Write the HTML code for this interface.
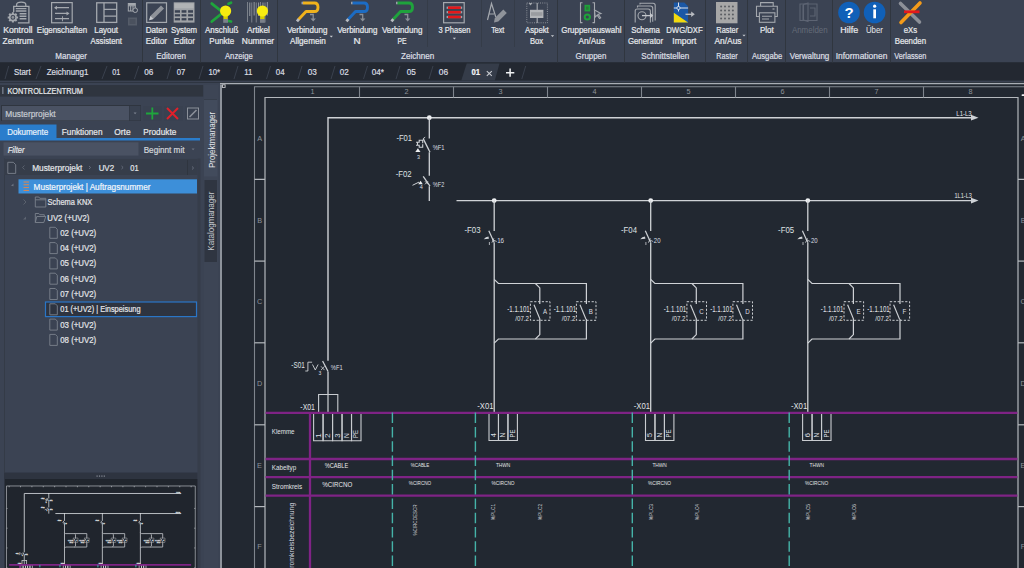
<!DOCTYPE html><html><head><meta charset="utf-8"><style>*{margin:0;padding:0}html,body{width:1024px;height:568px;overflow:hidden;background:#222831}svg{display:block;font-family:"Liberation Sans",sans-serif}</style></head><body><svg width="1024" height="568" viewBox="0 0 1024 568" font-family="Liberation Sans, sans-serif"><rect x="0" y="0" width="1024" height="568" fill="#222831" />
<rect x="0" y="0" width="1024" height="62.5" fill="#3b4353" />
<rect x="0" y="62.5" width="1024" height="18" fill="#232831" />
<rect x="0" y="80.6" width="1024" height="1.4" fill="#3b4252" />
<rect x="0" y="82.5" width="220" height="486" fill="#3b4353" />
<rect x="142" y="0" width="1" height="62.5" fill="#30363f" />
<rect x="200" y="0" width="1" height="62.5" fill="#30363f" />
<rect x="277" y="0" width="1" height="62.5" fill="#30363f" />
<rect x="557" y="0" width="1" height="62.5" fill="#30363f" />
<rect x="624" y="0" width="1" height="62.5" fill="#30363f" />
<rect x="705" y="0" width="1" height="62.5" fill="#30363f" />
<rect x="747" y="0" width="1" height="62.5" fill="#30363f" />
<rect x="785" y="0" width="1" height="62.5" fill="#30363f" />
<rect x="832" y="0" width="1" height="62.5" fill="#30363f" />
<rect x="890" y="0" width="1" height="62.5" fill="#30363f" />
<rect x="427" y="0" width="1" height="47" fill="#353c48" />
<rect x="481" y="0" width="1" height="47" fill="#353c48" />
<rect x="514" y="0" width="1" height="47" fill="#353c48" />
<g fill="none" stroke="#a4a8ae" stroke-width="1.3"><path d="M13.7 12V6.4h15.2v16.5h-11"/><path d="M16.6 6.2v-1.6q0-2.4 4.6-2.4q4.6 0 4.6 2.4v1.6"/></g><path d="M15.8 8.6h10.6M15.8 11h10.6M19.6 13.8h6.8M19.6 16.2h6.8M19.6 18.8h6.8" stroke="#a4a8ae" stroke-width="1.4"/><circle cx="12.9" cy="17.4" r="3.2" fill="#3b4353" stroke="#a4a8ae" stroke-width="1.6"/><circle cx="12.9" cy="17.4" r="1.4" fill="#8d9198"/><path d="M16.20 17.40L18.10 17.40M15.23 19.73L16.58 21.08M12.90 20.70L12.90 22.60M10.57 19.73L9.22 21.08M9.60 17.40L7.70 17.40M10.57 15.07L9.22 13.72M12.90 14.10L12.90 12.20M15.23 15.07L16.58 13.72" stroke="#a4a8ae" stroke-width="2"/>
<text x="3.21" y="33.45" font-size="8.4" fill="#e6e8eb" textLength="29.31" lengthAdjust="spacingAndGlyphs" stroke="#e6e8eb" stroke-width="0.22" >Kontroll</text>
<text x="2.55" y="43.65" font-size="8.4" fill="#e6e8eb" textLength="31.07" lengthAdjust="spacingAndGlyphs" stroke="#e6e8eb" stroke-width="0.22" >Zentrum</text>
<g fill="none" stroke="#a4a8ae" stroke-width="1.2"><rect x="51.6" y="2.6" width="20.6" height="20.2"/><path d="M55 7.7h14M55 13.4h13.5M55 18.7h14"/></g><g fill="#a4a8ae"><path d="M54 7.7l3-2v4z"/><path d="M69.5 13.4l-3-2v4z"/><path d="M62 16.3v5h0.9v-5z"/></g>
<text x="36.87" y="33.45" font-size="8.4" fill="#e6e8eb" textLength="50.19" lengthAdjust="spacingAndGlyphs" stroke="#e6e8eb" stroke-width="0.22" >Eigenschaften</text>
<g fill="none" stroke="#a4a8ae" stroke-width="1.3"><rect x="96.7" y="2.8" width="20" height="19.6"/><path d="M104 2.8v19.6M104 9.4h12.7M104 16.2h12.7"/></g>
<text x="94.37" y="33.45" font-size="8.4" fill="#e6e8eb" textLength="23.65" lengthAdjust="spacingAndGlyphs" stroke="#e6e8eb" stroke-width="0.22" >Layout</text>
<text x="90.60" y="43.65" font-size="8.4" fill="#e6e8eb" textLength="31.38" lengthAdjust="spacingAndGlyphs" stroke="#e6e8eb" stroke-width="0.22" >Assistent</text>
<g fill="none" stroke="#a4a8ae" stroke-width="1"><rect x="128.3" y="3.5" width="7" height="7.5"/><path d="M128.3 5.8h7M130.7 5.8v5.2M133 5.8v5.2"/></g><rect x="128.3" y="3.5" width="7" height="2" fill="#a4a8ae"/><circle cx="135.2" cy="10.2" r="2.3" fill="#3b4353" stroke="#a4a8ae" stroke-width="1"/><rect x="128" y="17.5" width="9" height="8" fill="#555c69"/><rect x="129.5" y="19" width="6" height="5" fill="#4a515e"/>
<text x="55.26" y="58.70" font-size="8.4" fill="#dcdfe3" textLength="31.78" lengthAdjust="spacingAndGlyphs" stroke="#dcdfe3" stroke-width="0.22" >Manager</text>
<rect x="146.7" y="2.8" width="19.8" height="19.6" fill="none" stroke="#a4a8ae" stroke-width="1.2"/><path d="M149.2 20.2l1.2-4.2l10.6-10.6l3 3l-10.6 10.6z" fill="#8f939a"/><path d="M149.2 20.2l1.2-4.2l3 3z" fill="#c8cbd0"/>
<text x="145.65" y="33.45" font-size="8.4" fill="#e6e8eb" textLength="21.73" lengthAdjust="spacingAndGlyphs" stroke="#e6e8eb" stroke-width="0.22" >Daten</text>
<text x="145.65" y="43.65" font-size="8.4" fill="#e6e8eb" textLength="21.35" lengthAdjust="spacingAndGlyphs" stroke="#e6e8eb" stroke-width="0.22" >Editor</text>
<rect x="173.7" y="2.3" width="20.8" height="20.3" fill="#9fa2a6"/><rect x="174.5" y="3.3" width="19.2" height="5" fill="#b1b3b5"/><rect x="174.8" y="10.2" width="5.2" height="2.5" fill="#3b4353"/><rect x="174.8" y="14.2" width="5.2" height="2.2" fill="#3b4353"/><rect x="174.8" y="18.1" width="5.2" height="2.3" fill="#3b4353"/><rect x="181.6" y="10.2" width="4.8" height="2.5" fill="#3b4353"/><rect x="181.6" y="14.2" width="4.8" height="2.2" fill="#3b4353"/><rect x="181.6" y="18.1" width="4.8" height="2.3" fill="#3b4353"/><rect x="188.1" y="10.2" width="4.9" height="2.5" fill="#3b4353"/><rect x="188.1" y="14.2" width="4.9" height="2.2" fill="#3b4353"/><rect x="188.1" y="18.1" width="4.9" height="2.3" fill="#3b4353"/>
<text x="170.99" y="33.45" font-size="8.4" fill="#e6e8eb" textLength="26.01" lengthAdjust="spacingAndGlyphs" stroke="#e6e8eb" stroke-width="0.22" >System</text>
<text x="173.75" y="43.65" font-size="8.4" fill="#e6e8eb" textLength="21.35" lengthAdjust="spacingAndGlyphs" stroke="#e6e8eb" stroke-width="0.22" >Editor</text>
<text x="156.26" y="58.70" font-size="8.4" fill="#dcdfe3" textLength="29.77" lengthAdjust="spacingAndGlyphs" stroke="#dcdfe3" stroke-width="0.22" >Editoren</text>
<g stroke="#1fa53c" stroke-width="2.8" stroke-linecap="round"><path d="M211.8 3.6L223 12.5M211.8 21.5L223 12.5"/><path d="M228.5 3.8l2.5-1M228.5 21l2.5 0.5"/></g><rect x="223.4" y="16" width="4.4" height="3" fill="#d8d000"/><rect x="223.2" y="19" width="4.8" height="3.8" fill="#7b808a"/><circle cx="225.6" cy="11" r="5.6" fill="#f8ec10"/>
<text x="205.00" y="33.45" font-size="8.4" fill="#e6e8eb" textLength="33.41" lengthAdjust="spacingAndGlyphs" stroke="#e6e8eb" stroke-width="0.22" >Anschluß</text>
<text x="209.36" y="43.65" font-size="8.4" fill="#e6e8eb" textLength="24.91" lengthAdjust="spacingAndGlyphs" stroke="#e6e8eb" stroke-width="0.22" >Punkte</text>
<rect x="247.0" y="2" width="0.8" height="20" fill="#8c9199"/><rect x="249.2" y="2.5" width="1.1" height="13.5" fill="#8c9199"/><rect x="251.4" y="2.5" width="0.8" height="20" fill="#8c9199"/><rect x="253.6" y="2" width="1.1" height="13.5" fill="#8c9199"/><rect x="255.8" y="2.5" width="0.8" height="20" fill="#8c9199"/><rect x="258.0" y="2.5" width="1.1" height="13.5" fill="#8c9199"/><rect x="260.2" y="2" width="0.8" height="20" fill="#8c9199"/><rect x="262.4" y="2.5" width="1.1" height="13.5" fill="#8c9199"/><rect x="264.6" y="2.5" width="0.8" height="20" fill="#8c9199"/><rect x="266.8" y="2" width="1.1" height="13.5" fill="#8c9199"/><rect x="260.2" y="16" width="4.4" height="3" fill="#d8d000"/><rect x="260.0" y="19" width="4.8" height="3.8" fill="#7b808a"/><circle cx="262.4" cy="11" r="5.6" fill="#f8ec10"/>
<text x="246.90" y="33.45" font-size="8.4" fill="#e6e8eb" textLength="22.98" lengthAdjust="spacingAndGlyphs" stroke="#e6e8eb" stroke-width="0.22" >Artikel</text>
<text x="241.83" y="43.65" font-size="8.4" fill="#e6e8eb" textLength="32.29" lengthAdjust="spacingAndGlyphs" stroke="#e6e8eb" stroke-width="0.22" >Nummer</text>
<text x="225.00" y="58.70" font-size="8.4" fill="#dcdfe3" textLength="27.76" lengthAdjust="spacingAndGlyphs" stroke="#dcdfe3" stroke-width="0.22" >Anzeige</text>
<path d="M302.8 3H314.5Q318 3 318 7.2Q318 11.5 314.5 11.5H306L298.5 19.5" fill="none" stroke="#f0b21c" stroke-width="2.9" stroke-linejoin="round"/><path d="M298.8 19.2l-1.8 2.2" stroke="#b9bcc1" stroke-width="2.8"/><path d="M301.5 3H303" stroke="#9aa0a8" stroke-width="2.6"/><g fill="none" stroke="#8a8f97" stroke-width="1.3"><path d="M310 14.5h3.2v5"/></g><path d="M310.5 18.6h5.4l-2.7 3z" fill="#8a8f97"/>
<text x="286.90" y="33.45" font-size="8.4" fill="#e6e8eb" textLength="40.48" lengthAdjust="spacingAndGlyphs" stroke="#e6e8eb" stroke-width="0.22" >Verbindung</text>
<text x="290.00" y="43.65" font-size="8.4" fill="#e6e8eb" textLength="35.80" lengthAdjust="spacingAndGlyphs" stroke="#e6e8eb" stroke-width="0.22" >Allgemein</text>
<path d="M329.7 35.7h3.2l-1.6 1.8z" fill="#c8cbd0"/>
<path d="M352.3 3H364.0Q367.5 3 367.5 7.2Q367.5 11.5 364.0 11.5H355.5L348.0 19.5" fill="none" stroke="#1c6cc4" stroke-width="2.9" stroke-linejoin="round"/><path d="M348.3 19.2l-1.8 2.2" stroke="#b9bcc1" stroke-width="2.8"/><path d="M351.0 3H352.5" stroke="#9aa0a8" stroke-width="2.6"/><g fill="none" stroke="#8a8f97" stroke-width="1.3"><path d="M359.5 14.5h3.2v5"/></g><path d="M360.0 18.6h5.4l-2.7 3z" fill="#8a8f97"/>
<text x="337.20" y="33.45" font-size="8.4" fill="#e6e8eb" textLength="40.28" lengthAdjust="spacingAndGlyphs" stroke="#e6e8eb" stroke-width="0.22" >Verbindung</text>
<text x="353.61" y="43.65" font-size="8.4" fill="#e6e8eb" textLength="7.10" lengthAdjust="spacingAndGlyphs" stroke="#e6e8eb" stroke-width="0.22" >N</text>
<path d="M397.3 3H409.0Q412.5 3 412.5 7.2Q412.5 11.5 409.0 11.5H400.5L393.0 19.5" fill="none" stroke="#1fa33c" stroke-width="2.9" stroke-linejoin="round"/><path d="M393.3 19.2l-1.8 2.2" stroke="#b9bcc1" stroke-width="2.8"/><path d="M396.0 3H397.5" stroke="#9aa0a8" stroke-width="2.6"/><g fill="none" stroke="#8a8f97" stroke-width="1.3"><path d="M404.5 14.5h3.2v5"/></g><path d="M405.0 18.6h5.4l-2.7 3z" fill="#8a8f97"/>
<text x="381.90" y="33.45" font-size="8.4" fill="#e6e8eb" textLength="40.48" lengthAdjust="spacingAndGlyphs" stroke="#e6e8eb" stroke-width="0.22" >Verbindung</text>
<text x="397.46" y="43.65" font-size="8.4" fill="#e6e8eb" textLength="9.08" lengthAdjust="spacingAndGlyphs" stroke="#e6e8eb" stroke-width="0.22" >PE</text>
<text x="401.06" y="58.70" font-size="8.4" fill="#dcdfe3" textLength="33.17" lengthAdjust="spacingAndGlyphs" stroke="#dcdfe3" stroke-width="0.22" >Zeichnen</text>
<rect x="443.6" y="2.6" width="20.6" height="20.2" fill="none" stroke="#a4a8ae" stroke-width="1.2"/><path d="M446.6 7.7h15.6" stroke="#9fa3a9" stroke-width="2.2"/><path d="M448 7.7h12.8" stroke="#e3181b" stroke-width="2.6"/><path d="M446.6 12.2h15.6" stroke="#9fa3a9" stroke-width="2.2"/><path d="M448 12.2h12.8" stroke="#e3181b" stroke-width="2.6"/><path d="M446.6 17h15.6" stroke="#9fa3a9" stroke-width="2.2"/><path d="M448 17h12.8" stroke="#e3181b" stroke-width="2.6"/>
<text x="438.57" y="33.45" font-size="8.4" fill="#e6e8eb" textLength="31.84" lengthAdjust="spacingAndGlyphs" stroke="#e6e8eb" stroke-width="0.22" >3 Phasen</text>
<path d="M452.79999999999995 37.7h3.2l-1.6 1.8z" fill="#c8cbd0"/>
<path d="M487.5 20L491.5 3.5L495.8 17M489 14h5" fill="none" stroke="#a4a8ae" stroke-width="1.2"/><path d="M494 22.5l0.8-4.5l8.5-8.5l3.5 3.5l-8.5 8.5z" fill="#8f939a"/>
<text x="491.16" y="33.45" font-size="8.4" fill="#e6e8eb" textLength="13.20" lengthAdjust="spacingAndGlyphs" stroke="#e6e8eb" stroke-width="0.22" >Text</text>
<rect x="526.8" y="3" width="20.6" height="19.8" fill="none" stroke="#8a8f97" stroke-width="1" stroke-dasharray="1 1.2"/><path d="M537.2 3v20" stroke="#a4a8ae" stroke-width="1.2"/><rect x="530" y="9.8" width="13.4" height="8.2" fill="#b4b6b9"/><rect x="531" y="12.2" width="11.4" height="3.6" fill="#9a9ca0"/><path d="M528.5 3h4l-2 2.5z" fill="#a4a8ae"/>
<text x="525.00" y="33.45" font-size="8.4" fill="#e6e8eb" textLength="23.78" lengthAdjust="spacingAndGlyphs" stroke="#e6e8eb" stroke-width="0.22" >Aspekt</text>
<text x="529.99" y="43.65" font-size="8.4" fill="#e6e8eb" textLength="13.21" lengthAdjust="spacingAndGlyphs" stroke="#e6e8eb" stroke-width="0.22" >Box</text>
<path d="M550.9 35.2h3.2l-1.6 1.8z" fill="#c8cbd0"/>
<g fill="none" stroke="#a4a8ae" stroke-width="1.1"><path d="M582.5 2.8h-2v19.8h2M592.5 2.8h2v19.8h-2"/><path d="M594.5 10l6.5 3.5l-2.8 0.8l2.5 3.5l-1.2 0.8l-2.3-3.5l-2 2z"/></g><rect x="584.5" y="4.8" width="5.6" height="6.6" fill="#1ea23a"/><rect x="586" y="6.5" width="2.6" height="3.2" fill="#2c7a3a"/><circle cx="587.3" cy="17" r="2.6" fill="none" stroke="#1ea23a" stroke-width="2"/>
<text x="561.20" y="33.45" font-size="8.4" fill="#e6e8eb" textLength="60.28" lengthAdjust="spacingAndGlyphs" stroke="#e6e8eb" stroke-width="0.22" >Gruppenauswahl</text>
<text x="578.50" y="43.65" font-size="8.4" fill="#e6e8eb" textLength="26.58" lengthAdjust="spacingAndGlyphs" stroke="#e6e8eb" stroke-width="0.22" >An/Aus</text>
<text x="575.60" y="58.70" font-size="8.4" fill="#dcdfe3" textLength="30.80" lengthAdjust="spacingAndGlyphs" stroke="#dcdfe3" stroke-width="0.22" >Gruppen</text>
<g fill="none" stroke="#a4a8ae" stroke-width="1.1"><path d="M640 4.5V3.2h13q2.2 0 2.2 2.2v15"/><path d="M637.5 7.5V6h13q2.2 0 2.2 2.2v13.6"/><path d="M635.2 22.5V11q0-2 2-2h11q2.2 0 2.2 2.2v11.3"/><circle cx="642" cy="15.7" r="4"/></g><path d="M642 15.6h9" stroke="#c4c7cc" stroke-width="1.3"/><path d="M650 12.8l3.2 2.8l-3.2 2.8z" fill="#c4c7cc"/>
<text x="631.29" y="33.45" font-size="8.4" fill="#e6e8eb" textLength="28.50" lengthAdjust="spacingAndGlyphs" stroke="#e6e8eb" stroke-width="0.22" >Schema</text>
<text x="627.91" y="43.65" font-size="8.4" fill="#e6e8eb" textLength="35.08" lengthAdjust="spacingAndGlyphs" stroke="#e6e8eb" stroke-width="0.22" >Generator</text>
<path d="M673.8 2.5h10.5l3.8 3.8v16.3h-14.3z" fill="#1b58a6"/><path d="M673.8 12.8l14.3 9.8h-14.3z" fill="#f2d90e"/><g stroke="#dfe3ea" stroke-width="1"><path d="M678.5 2.5v9M673.8 8h14.3"/></g><circle cx="678.5" cy="8" r="1.6" fill="#1b58a6" stroke="#dfe3ea" stroke-width="0.9"/><path d="M685.5 14.3h6.5" stroke="#b9bcc1" stroke-width="1.4"/><path d="M691.2 11.5l3.6 2.8l-3.6 2.8z" fill="#b9bcc1"/>
<text x="666.28" y="33.45" font-size="8.4" fill="#e6e8eb" textLength="36.46" lengthAdjust="spacingAndGlyphs" stroke="#e6e8eb" stroke-width="0.22" >DWG/DXF</text>
<text x="672.33" y="43.65" font-size="8.4" fill="#e6e8eb" textLength="24.11" lengthAdjust="spacingAndGlyphs" stroke="#e6e8eb" stroke-width="0.22" >Import</text>
<text x="641.28" y="58.70" font-size="8.4" fill="#dcdfe3" textLength="47.99" lengthAdjust="spacingAndGlyphs" stroke="#dcdfe3" stroke-width="0.22" >Schnittstellen</text>
<rect x="716" y="2" width="21.5" height="21.3" fill="#a7a7a7"/><circle cx="721.1" cy="6.5" r="1" fill="#5a5d62"/><circle cx="721.1" cy="10.5" r="1" fill="#5a5d62"/><circle cx="721.1" cy="14.6" r="1" fill="#5a5d62"/><circle cx="721.1" cy="18.5" r="1" fill="#5a5d62"/><circle cx="725" cy="6.5" r="1" fill="#5a5d62"/><circle cx="725" cy="10.5" r="1" fill="#5a5d62"/><circle cx="725" cy="14.6" r="1" fill="#5a5d62"/><circle cx="725" cy="18.5" r="1" fill="#5a5d62"/><circle cx="729" cy="6.5" r="1" fill="#5a5d62"/><circle cx="729" cy="10.5" r="1" fill="#5a5d62"/><circle cx="729" cy="14.6" r="1" fill="#5a5d62"/><circle cx="729" cy="18.5" r="1" fill="#5a5d62"/><circle cx="732.9" cy="6.5" r="1" fill="#5a5d62"/><circle cx="732.9" cy="10.5" r="1" fill="#5a5d62"/><circle cx="732.9" cy="14.6" r="1" fill="#5a5d62"/><circle cx="732.9" cy="18.5" r="1" fill="#5a5d62"/>
<text x="716.30" y="33.45" font-size="8.4" fill="#e6e8eb" textLength="21.91" lengthAdjust="spacingAndGlyphs" stroke="#e6e8eb" stroke-width="0.22" >Raster</text>
<text x="714.40" y="43.65" font-size="8.4" fill="#e6e8eb" textLength="27.19" lengthAdjust="spacingAndGlyphs" stroke="#e6e8eb" stroke-width="0.22" >An/Aus</text>
<path d="M742.4 34.7h3.2l-1.6 1.8z" fill="#c8cbd0"/>
<text x="716.32" y="58.70" font-size="8.4" fill="#dcdfe3" textLength="21.29" lengthAdjust="spacingAndGlyphs" stroke="#dcdfe3" stroke-width="0.22" >Raster</text>
<g fill="none" stroke="#a4a8ae" stroke-width="1.1"><path d="M760.6 6V2.6h12.6V6"/><path d="M759.3 16.5h-2.8V6.2h20.8v10.3h-2.5"/><rect x="759.4" y="12.8" width="15.5" height="9.5"/><path d="M762 16.3h10M762 19h7"/></g><path d="M772.5 9h2" stroke="#a4a8ae" stroke-width="1.2"/>
<text x="759.96" y="33.45" font-size="8.4" fill="#e6e8eb" textLength="13.78" lengthAdjust="spacingAndGlyphs" stroke="#e6e8eb" stroke-width="0.22" >Plot</text>
<text x="751.90" y="58.70" font-size="8.4" fill="#dcdfe3" textLength="30.29" lengthAdjust="spacingAndGlyphs" stroke="#dcdfe3" stroke-width="0.22" >Ausgabe</text>
<g fill="none" stroke="#5d6473" stroke-width="1.1"><path d="M800 4h17v16.5h-17z"/><path d="M803 4.5v15.5M808 3l-4.5 1.5v15.5l4.5 1.5z"/><path d="M810 8h5v8h-5"/></g>
<text x="791.90" y="33.20" font-size="8.4" fill="#646b78" textLength="35.82" lengthAdjust="spacingAndGlyphs" >Anmelden</text>
<text x="789.80" y="58.70" font-size="8.4" fill="#dcdfe3" textLength="39.46" lengthAdjust="spacingAndGlyphs" stroke="#dcdfe3" stroke-width="0.22" >Verwaltung</text>
<circle cx="849" cy="12.5" r="10.8" fill="#1060b8"/><circle cx="874.6" cy="12.5" r="10.8" fill="#1060b8"/><text x="849" y="17.6" font-weight="bold" font-size="15" fill="#fff" text-anchor="middle">?</text><rect x="873.3" y="9.3" width="2.7" height="9" fill="#fff"/><circle cx="874.65" cy="6.2" r="1.6" fill="#fff"/>
<text x="840.29" y="33.45" font-size="8.4" fill="#e6e8eb" textLength="17.88" lengthAdjust="spacingAndGlyphs" stroke="#e6e8eb" stroke-width="0.22" >Hilfe</text>
<text x="865.95" y="33.20" font-size="8.4" fill="#e6e8eb" textLength="16.98" lengthAdjust="spacingAndGlyphs" >Über</text>
<text x="835.74" y="58.70" font-size="8.4" fill="#dcdfe3" textLength="51.62" lengthAdjust="spacingAndGlyphs" stroke="#dcdfe3" stroke-width="0.22" >Informationen</text>
<path d="M900.5 3.5L919.5 22" stroke="#8c9098" stroke-width="3.6" stroke-linecap="round"/><path d="M920 3L901 22.5" stroke="#f39b1a" stroke-width="3.6" stroke-linecap="round"/><path d="M904 11.8h15.5" stroke="#e3191b" stroke-width="2.8"/>
<text x="903.69" y="33.45" font-size="8.4" fill="#e6e8eb" textLength="13.37" lengthAdjust="spacingAndGlyphs" stroke="#e6e8eb" stroke-width="0.22" >eXs</text>
<text x="894.67" y="43.65" font-size="8.4" fill="#e6e8eb" textLength="31.35" lengthAdjust="spacingAndGlyphs" stroke="#e6e8eb" stroke-width="0.22" >Beenden</text>
<text x="894.30" y="58.70" font-size="8.4" fill="#dcdfe3" textLength="32.08" lengthAdjust="spacingAndGlyphs" stroke="#dcdfe3" stroke-width="0.22" >Verlassen</text>
<path d="M466.7 63.5H499.5L494.8 80.5H461.3z" fill="#353c49"/>
<path d="M8.7 66L5 79" stroke="#3a414e" stroke-width="1"/>
<path d="M41 66L36 79" stroke="#3a414e" stroke-width="1"/>
<path d="M107 66L102 79" stroke="#3a414e" stroke-width="1"/>
<path d="M138.8 66L134.4 79" stroke="#3a414e" stroke-width="1"/>
<path d="M171 66L167 79" stroke="#3a414e" stroke-width="1"/>
<path d="M203 66L199 79" stroke="#3a414e" stroke-width="1"/>
<path d="M238 66L234 79" stroke="#3a414e" stroke-width="1"/>
<path d="M270.5 66L266.5 79" stroke="#3a414e" stroke-width="1"/>
<path d="M302 66L298 79" stroke="#3a414e" stroke-width="1"/>
<path d="M335 66L331 79" stroke="#3a414e" stroke-width="1"/>
<path d="M367.5 66L363.5 79" stroke="#3a414e" stroke-width="1"/>
<path d="M400 66L396 79" stroke="#3a414e" stroke-width="1"/>
<path d="M433 66L429 79" stroke="#3a414e" stroke-width="1"/>
<path d="M525.7 66L521.8 79" stroke="#3a414e" stroke-width="1"/>
<text x="14.09" y="75.20" font-size="8.4" fill="#dadde1" textLength="16.53" lengthAdjust="spacingAndGlyphs" stroke="#dadde1" stroke-width="0.2" >Start</text>
<text x="46.76" y="75.20" font-size="8.4" fill="#dadde1" textLength="41.60" lengthAdjust="spacingAndGlyphs" stroke="#dadde1" stroke-width="0.2" >Zeichnung1</text>
<text x="112.28" y="75.20" font-size="8.4" fill="#dadde1" textLength="8.02" lengthAdjust="spacingAndGlyphs" stroke="#dadde1" stroke-width="0.2" >01</text>
<text x="144.15" y="75.20" font-size="8.4" fill="#dadde1" textLength="9.11" lengthAdjust="spacingAndGlyphs" stroke="#dadde1" stroke-width="0.2" >06</text>
<text x="176.77" y="75.20" font-size="8.4" fill="#dadde1" textLength="8.56" lengthAdjust="spacingAndGlyphs" stroke="#dadde1" stroke-width="0.2" >07</text>
<text x="208.46" y="75.20" font-size="8.4" fill="#dadde1" textLength="11.63" lengthAdjust="spacingAndGlyphs" stroke="#dadde1" stroke-width="0.2" >10*</text>
<text x="244.15" y="75.20" font-size="8.4" fill="#dadde1" textLength="8.12" lengthAdjust="spacingAndGlyphs" stroke="#dadde1" stroke-width="0.2" >11</text>
<text x="275.76" y="75.20" font-size="8.4" fill="#dadde1" textLength="8.81" lengthAdjust="spacingAndGlyphs" stroke="#dadde1" stroke-width="0.2" >04</text>
<text x="307.75" y="75.20" font-size="8.4" fill="#dadde1" textLength="9.11" lengthAdjust="spacingAndGlyphs" stroke="#dadde1" stroke-width="0.2" >03</text>
<text x="339.76" y="75.20" font-size="8.4" fill="#dadde1" textLength="8.98" lengthAdjust="spacingAndGlyphs" stroke="#dadde1" stroke-width="0.2" >02</text>
<text x="371.66" y="75.20" font-size="8.4" fill="#dadde1" textLength="12.24" lengthAdjust="spacingAndGlyphs" stroke="#dadde1" stroke-width="0.2" >04*</text>
<text x="406.75" y="75.20" font-size="8.4" fill="#dadde1" textLength="9.11" lengthAdjust="spacingAndGlyphs" stroke="#dadde1" stroke-width="0.2" >05</text>
<text x="438.75" y="75.20" font-size="8.4" fill="#dadde1" textLength="9.32" lengthAdjust="spacingAndGlyphs" stroke="#dadde1" stroke-width="0.2" >06</text>
<text x="471.57" y="74.90" font-size="8.4" fill="#f4f5f7" textLength="8.60" lengthAdjust="spacingAndGlyphs" font-weight="bold" stroke="#f4f5f7" stroke-width="0.2" >01</text>
<path d="M486.8 71.2l5 4.6M491.8 71.2l-5 4.6" stroke="#c9ccd1" stroke-width="1.1"/><path d="M510.1 68.6v8.2M506 72.7h8.3" stroke="#f0f1f3" stroke-width="1.5"/>
<rect x="0" y="85.1" width="203.4" height="11.5" fill="#2f353f" />
<rect x="2" y="87" width="1.6" height="7" fill="#6b7280" />
<text x="7.41" y="93.70" font-size="8.2" fill="#e6e8eb" textLength="75.59" lengthAdjust="spacingAndGlyphs" stroke="#e6e8eb" stroke-width="0.2" >KONTROLLZENTRUM</text>
<rect x="1" y="105" width="140" height="16" fill="#2f353f" />
<rect x="2" y="106" width="127" height="14.5" fill="#4a5263" />
<text x="5.23" y="116.80" font-size="8.4" fill="#c6cad1" textLength="50.44" lengthAdjust="spacingAndGlyphs" stroke="#c6cad1" stroke-width="0.2" >Musterprojekt</text>
<rect x="129.5" y="106" width="11" height="14.5" fill="#394150" />
<path d="M133.6 112.6h3l-1.5 1.6z" fill="#7d8390"/>
<rect x="143.5" y="106" width="18" height="14.5" fill="#394150" />
<rect x="164" y="106" width="19" height="14.5" fill="#394150" />
<rect x="185" y="106" width="15" height="14.5" fill="#394150" />
<path d="M152.3 107.5v12M146 113.5h12.5" stroke="#1fa53c" stroke-width="1.8"/><path d="M167 108l11 11M178 108l-11 11" stroke="#e0202a" stroke-width="2"/><rect x="187.5" y="108" width="11" height="11" fill="none" stroke="#8c919a" stroke-width="1"/><path d="M189.5 117l7-7" stroke="#8c919a" stroke-width="1.6"/>
<rect x="0" y="124.5" width="56.5" height="14" fill="#2a7dcc" />
<rect x="0" y="138" width="200" height="2.5" fill="#2a7dcc" />
<text x="7.16" y="135.00" font-size="8.4" fill="#e8f1fb" textLength="41.01" lengthAdjust="spacingAndGlyphs" stroke="#e8f1fb" stroke-width="0.2" >Dokumente</text>
<text x="61.84" y="135.00" font-size="8.4" fill="#e4e6e9" textLength="40.63" lengthAdjust="spacingAndGlyphs" stroke="#e4e6e9" stroke-width="0.2" >Funktionen</text>
<text x="114.26" y="135.00" font-size="8.4" fill="#e4e6e9" textLength="16.33" lengthAdjust="spacingAndGlyphs" stroke="#e4e6e9" stroke-width="0.2" >Orte</text>
<text x="143.34" y="135.00" font-size="8.4" fill="#e4e6e9" textLength="32.92" lengthAdjust="spacingAndGlyphs" stroke="#e4e6e9" stroke-width="0.2" >Produkte</text>
<rect x="3.5" y="142.3" width="135" height="13.3" fill="#4a5263" />
<text x="7.67" y="152.90" font-size="8.4" fill="#e6e8eb" textLength="16.84" lengthAdjust="spacingAndGlyphs" font-style="italic" stroke="#e6e8eb" stroke-width="0.2" >Filter</text>
<text x="143.65" y="152.90" font-size="8.4" fill="#d4d7dc" textLength="40.87" lengthAdjust="spacingAndGlyphs" stroke="#d4d7dc" stroke-width="0.2" >Beginnt mit</text>
<path d="M191.6 148.6h3l-1.5 1.6z" fill="#6b7280"/>
<rect x="4" y="158.5" width="193.5" height="314" fill="#3b4353" />
<path d="M4.5 158.5V472.5" stroke="#343b47" stroke-width="1"/>
<rect x="197.5" y="158.5" width="3" height="414" fill="#363d4a" />
<rect x="4" y="159" width="193.5" height="16" fill="#363d4a" />
<path d="M7.8 162.3h5.5l2.4 2.4v8.7h-7.9z" fill="none" stroke="#7c828d" stroke-width="0.9"/><path d="M24.5 165.5l-2 2l2 2" fill="none" stroke="#5d6471" stroke-width="0.9"/><path d="M89 166l1.6 1.5l-1.6 1.5M121.5 166l1.6 1.5l-1.6 1.5" fill="none" stroke="#6b7280" stroke-width="0.9"/><path d="M187.5 160v15" stroke="#2f353f" stroke-width="1"/><path d="M192 166.5l1.6 1.5l-1.6 1.5" fill="none" stroke="#6b7280" stroke-width="0.9"/>
<text x="32.14" y="170.70" font-size="8.4" fill="#e4e6e9" textLength="50.24" lengthAdjust="spacingAndGlyphs" stroke="#e4e6e9" stroke-width="0.2" >Musterprojekt</text>
<text x="98.65" y="170.70" font-size="8.4" fill="#e4e6e9" textLength="15.41" lengthAdjust="spacingAndGlyphs" stroke="#e4e6e9" stroke-width="0.2" >UV2</text>
<text x="130.28" y="170.70" font-size="8.4" fill="#e4e6e9" textLength="8.34" lengthAdjust="spacingAndGlyphs" stroke="#e4e6e9" stroke-width="0.2" >01</text>
<rect x="18.5" y="179.3" width="178.5" height="14.2" fill="#3d8fd9" />
<path d="M11 185.8l2.5-2.2v2.6z" fill="#6b7280"/><path d="M23.5 182h5.5M23.5 184.8h5.5M23.5 187.6h5.5M23.5 190.4h5.5" stroke="#e3874a" stroke-width="1"/>
<text x="33.54" y="189.50" font-size="8.4" fill="#f2f6fb" textLength="116.93" lengthAdjust="spacingAndGlyphs" stroke="#f2f6fb" stroke-width="0.2" >Musterprojekt | Auftragsnummer</text>
<path d="M23.5 199.5l2.5 2.5l-2.5 2.5" fill="none" stroke="#5d6471" stroke-width="0.9"/>
<path d="M23 219.5l3-3v3z" fill="#5d6471"/>
<path d="M35.3 197h3.5l1 1.3h6v8.7h-10.5z M35.3 199.8h10.5" fill="none" stroke="#7c828d" stroke-width="0.9"/>
<path d="M35.3 213.5h3.5l1 1.2h4.5v1.5M35.3 213.5v9h8.5l2-6h-9l-1.5 6" fill="none" stroke="#7c828d" stroke-width="0.9"/>
<text x="47.60" y="205.20" font-size="8.4" fill="#e4e6e9" textLength="44.69" lengthAdjust="spacingAndGlyphs" stroke="#e4e6e9" stroke-width="0.2" >Schema KNX</text>
<text x="47.36" y="220.60" font-size="8.4" fill="#e4e6e9" textLength="41.92" lengthAdjust="spacingAndGlyphs" stroke="#e4e6e9" stroke-width="0.2" >UV2 (+UV2)</text>
<rect x="45.5" y="302.0" width="151" height="14.6" fill="#2e3440" stroke="#2a76c6" stroke-width="1.2"/>
<path d="M49.8 227.3h5.5l2 2v9h-7.5z" fill="none" stroke="#7c828d" stroke-width="0.9"/>
<text x="60.26" y="235.80" font-size="8.4" fill="#e4e6e9" textLength="35.97" lengthAdjust="spacingAndGlyphs" stroke="#e4e6e9" stroke-width="0.2" >02 (+UV2)</text>
<path d="M49.8 242.60000000000002h5.5l2 2v9h-7.5z" fill="none" stroke="#7c828d" stroke-width="0.9"/>
<text x="60.26" y="251.10" font-size="8.4" fill="#e4e6e9" textLength="35.97" lengthAdjust="spacingAndGlyphs" stroke="#e4e6e9" stroke-width="0.2" >04 (+UV2)</text>
<path d="M49.8 257.90000000000003h5.5l2 2v9h-7.5z" fill="none" stroke="#7c828d" stroke-width="0.9"/>
<text x="60.26" y="266.40" font-size="8.4" fill="#e4e6e9" textLength="35.97" lengthAdjust="spacingAndGlyphs" stroke="#e4e6e9" stroke-width="0.2" >05 (+UV2)</text>
<path d="M49.8 273.20000000000005h5.5l2 2v9h-7.5z" fill="none" stroke="#7c828d" stroke-width="0.9"/>
<text x="60.26" y="281.70" font-size="8.4" fill="#e4e6e9" textLength="35.97" lengthAdjust="spacingAndGlyphs" stroke="#e4e6e9" stroke-width="0.2" >06 (+UV2)</text>
<path d="M49.8 288.5h5.5l2 2v9h-7.5z" fill="none" stroke="#7c828d" stroke-width="0.9"/>
<text x="60.26" y="297.00" font-size="8.4" fill="#e4e6e9" textLength="35.97" lengthAdjust="spacingAndGlyphs" stroke="#e4e6e9" stroke-width="0.2" >07 (+UV2)</text>
<path d="M49.8 303.8h5.5l2 2v9h-7.5z" fill="none" stroke="#7c828d" stroke-width="0.9"/>
<text x="60.28" y="312.30" font-size="8.4" fill="#e4e6e9" textLength="80.26" lengthAdjust="spacingAndGlyphs" stroke="#e4e6e9" stroke-width="0.2" >01 (+UV2) | Einspeisung</text>
<path d="M49.8 319.1h5.5l2 2v9h-7.5z" fill="none" stroke="#7c828d" stroke-width="0.9"/>
<text x="60.26" y="327.60" font-size="8.4" fill="#e4e6e9" textLength="35.97" lengthAdjust="spacingAndGlyphs" stroke="#e4e6e9" stroke-width="0.2" >03 (+UV2)</text>
<path d="M49.8 334.40000000000003h5.5l2 2v9h-7.5z" fill="none" stroke="#7c828d" stroke-width="0.9"/>
<text x="60.26" y="342.90" font-size="8.4" fill="#e4e6e9" textLength="35.97" lengthAdjust="spacingAndGlyphs" stroke="#e4e6e9" stroke-width="0.2" >08 (+UV2)</text>
<rect x="4" y="472.6" width="193.5" height="6.4" fill="#2e3440" />
<rect x="96.5" y="475.5" width="1.2" height="1.2" fill="#8a909a" />
<rect x="98.9" y="475.5" width="1.2" height="1.2" fill="#8a909a" />
<rect x="101.3" y="475.5" width="1.2" height="1.2" fill="#8a909a" />
<rect x="103.7" y="475.5" width="1.2" height="1.2" fill="#8a909a" />
<rect x="4.5" y="479" width="193" height="89" fill="#20252d" />
<rect x="203.5" y="84.5" width="14.5" height="484" fill="#3d4555" />
<rect x="204" y="99.5" width="13.5" height="77" fill="#424b5c" />
<rect x="204" y="99" width="13" height="0.8" fill="#353c49" />
<rect x="204.5" y="180" width="12.5" height="82" fill="#2f3541" />
<text transform="translate(214.74 167.40) rotate(-90)" x="-0.64" y="0" font-size="8.4" fill="#e4e6ea" textLength="56.10" lengthAdjust="spacingAndGlyphs">Projektmanager</text>
<text transform="translate(213.54 250.00) rotate(-90)" x="-0.64" y="0" font-size="8.4" fill="#c9ccd2" textLength="59.09" lengthAdjust="spacingAndGlyphs">Katalogmanager</text>
<clipPath id="cpd"><rect x="220" y="82.5" width="804" height="486"/></clipPath>
<g clip-path="url(#cpd)"><rect x="220" y="82.5" width="804" height="486" fill="#222831"/>
<g id="dwg"><polyline points="254.50,600.00 254.50,86.70 1030.00,86.70" fill="none" stroke="#7f858d" stroke-width="1.1"  vector-effect="non-scaling-stroke"/><polyline points="265.00,600.00 265.00,97.50 1018.00,97.50 1018.00,600.00" fill="none" stroke="#b4b8bd" stroke-width="1.2"  vector-effect="non-scaling-stroke"/><line x1="359.50" y1="86.70" x2="359.50" y2="97.50" stroke="#7f858d" stroke-width="1.1"  vector-effect="non-scaling-stroke"/><line x1="453.50" y1="86.70" x2="453.50" y2="97.50" stroke="#7f858d" stroke-width="1.1"  vector-effect="non-scaling-stroke"/><line x1="547.50" y1="86.70" x2="547.50" y2="97.50" stroke="#7f858d" stroke-width="1.1"  vector-effect="non-scaling-stroke"/><line x1="641.50" y1="86.70" x2="641.50" y2="97.50" stroke="#7f858d" stroke-width="1.1"  vector-effect="non-scaling-stroke"/><line x1="735.50" y1="86.70" x2="735.50" y2="97.50" stroke="#7f858d" stroke-width="1.1"  vector-effect="non-scaling-stroke"/><line x1="829.50" y1="86.70" x2="829.50" y2="97.50" stroke="#7f858d" stroke-width="1.1"  vector-effect="non-scaling-stroke"/><line x1="923.50" y1="86.70" x2="923.50" y2="97.50" stroke="#7f858d" stroke-width="1.1"  vector-effect="non-scaling-stroke"/><text x="310.49" y="94.40" font-size="8.05" fill="#8e939a" textLength="4.05" lengthAdjust="spacingAndGlyphs" >1</text><text x="404.56" y="94.40" font-size="8.05" fill="#8e939a" textLength="4.05" lengthAdjust="spacingAndGlyphs" >2</text><text x="498.60" y="94.40" font-size="8.05" fill="#8e939a" textLength="4.05" lengthAdjust="spacingAndGlyphs" >3</text><text x="592.60" y="94.40" font-size="8.05" fill="#8e939a" textLength="4.05" lengthAdjust="spacingAndGlyphs" >4</text><text x="686.56" y="94.40" font-size="8.05" fill="#8e939a" textLength="4.05" lengthAdjust="spacingAndGlyphs" >5</text><text x="780.52" y="94.40" font-size="8.05" fill="#8e939a" textLength="4.05" lengthAdjust="spacingAndGlyphs" >6</text><text x="874.56" y="94.40" font-size="8.05" fill="#8e939a" textLength="4.05" lengthAdjust="spacingAndGlyphs" >7</text><text x="968.56" y="94.40" font-size="8.05" fill="#8e939a" textLength="4.05" lengthAdjust="spacingAndGlyphs" >8</text><line x1="254.50" y1="179.40" x2="265.00" y2="179.40" stroke="#b4b8bd" stroke-width="1.2"  vector-effect="non-scaling-stroke"/><line x1="1018.00" y1="179.40" x2="1030.00" y2="179.40" stroke="#b4b8bd" stroke-width="1.2"  vector-effect="non-scaling-stroke"/><line x1="254.50" y1="261.10" x2="265.00" y2="261.10" stroke="#b4b8bd" stroke-width="1.2"  vector-effect="non-scaling-stroke"/><line x1="1018.00" y1="261.10" x2="1030.00" y2="261.10" stroke="#b4b8bd" stroke-width="1.2"  vector-effect="non-scaling-stroke"/><line x1="254.50" y1="342.80" x2="265.00" y2="342.80" stroke="#b4b8bd" stroke-width="1.2"  vector-effect="non-scaling-stroke"/><line x1="1018.00" y1="342.80" x2="1030.00" y2="342.80" stroke="#b4b8bd" stroke-width="1.2"  vector-effect="non-scaling-stroke"/><line x1="254.50" y1="424.80" x2="265.00" y2="424.80" stroke="#b4b8bd" stroke-width="1.2"  vector-effect="non-scaling-stroke"/><line x1="1018.00" y1="424.80" x2="1030.00" y2="424.80" stroke="#b4b8bd" stroke-width="1.2"  vector-effect="non-scaling-stroke"/><line x1="254.50" y1="506.60" x2="265.00" y2="506.60" stroke="#b4b8bd" stroke-width="1.2"  vector-effect="non-scaling-stroke"/><line x1="1018.00" y1="506.60" x2="1030.00" y2="506.60" stroke="#b4b8bd" stroke-width="1.2"  vector-effect="non-scaling-stroke"/><text x="257.26" y="141.20" font-size="8.05" fill="#8e939a" textLength="4.86" lengthAdjust="spacingAndGlyphs" >A</text><text x="1020.76" y="141.20" font-size="8.05" fill="#8e939a" textLength="4.86" lengthAdjust="spacingAndGlyphs" >A</text><text x="257.15" y="222.80" font-size="8.05" fill="#8e939a" textLength="4.86" lengthAdjust="spacingAndGlyphs" >B</text><text x="1020.65" y="222.80" font-size="8.05" fill="#8e939a" textLength="4.86" lengthAdjust="spacingAndGlyphs" >B</text><text x="257.00" y="304.40" font-size="8.05" fill="#8e939a" textLength="5.26" lengthAdjust="spacingAndGlyphs" >C</text><text x="1020.50" y="304.40" font-size="8.05" fill="#8e939a" textLength="5.26" lengthAdjust="spacingAndGlyphs" >C</text><text x="256.93" y="386.00" font-size="8.05" fill="#8e939a" textLength="5.26" lengthAdjust="spacingAndGlyphs" >D</text><text x="1020.43" y="386.00" font-size="8.05" fill="#8e939a" textLength="5.26" lengthAdjust="spacingAndGlyphs" >D</text><text x="257.11" y="467.60" font-size="8.05" fill="#8e939a" textLength="4.86" lengthAdjust="spacingAndGlyphs" >E</text><text x="1020.61" y="467.60" font-size="8.05" fill="#8e939a" textLength="4.86" lengthAdjust="spacingAndGlyphs" >E</text><text x="257.29" y="549.20" font-size="8.05" fill="#8e939a" textLength="4.45" lengthAdjust="spacingAndGlyphs" >F</text><text x="1020.79" y="549.20" font-size="8.05" fill="#8e939a" textLength="4.45" lengthAdjust="spacingAndGlyphs" >F</text><polyline points="328.00,360.80 328.00,117.70 972.00,117.70" fill="none" stroke="#cfd2d6" stroke-width="1.4"  vector-effect="non-scaling-stroke"/><line x1="328.00" y1="371.40" x2="328.00" y2="394.50" stroke="#cfd2d6" stroke-width="1.3"  vector-effect="non-scaling-stroke"/><path d="M971 114.8L978.5 117.7L971 120.6z" fill="#cfd2d6"/><text x="956.32" y="115.60" font-size="6.59" fill="#e4e6e8" textLength="15.41" lengthAdjust="spacingAndGlyphs" >L1-L3</text><circle cx="429.3" cy="117.7" r="2.4" fill="#eef0f2"/><line x1="429.30" y1="117.70" x2="429.30" y2="138.60" stroke="#cfd2d6" stroke-width="1.3"  vector-effect="non-scaling-stroke"/><line x1="430.00" y1="152.30" x2="423.20" y2="138.60" stroke="#cfd2d6" stroke-width="1.3"  vector-effect="non-scaling-stroke"/><line x1="423.20" y1="138.60" x2="425.20" y2="137.20" stroke="#cfd2d6" stroke-width="1.0"  vector-effect="non-scaling-stroke"/><line x1="429.30" y1="152.30" x2="429.30" y2="175.70" stroke="#cfd2d6" stroke-width="1.3"  vector-effect="non-scaling-stroke"/><line x1="430.00" y1="186.20" x2="423.20" y2="176.30" stroke="#cfd2d6" stroke-width="1.3"  vector-effect="non-scaling-stroke"/><line x1="429.30" y1="186.20" x2="429.30" y2="201.00" stroke="#cfd2d6" stroke-width="1.3"  vector-effect="non-scaling-stroke"/><path d="M416 142.2h3.2v-2h3.5v3M416 145.2h3.2v2h3.5v-3M417.5 142.2v3" stroke="#cfd2d6" stroke-width="1.1" fill="none"/><path d="M415.3 152l2.6-3.8l2.6 3.8z" fill="#eef0f2"/><text x="417.08" y="158.80" font-size="6.1" fill="#dcdfe2" textLength="3.07" lengthAdjust="spacingAndGlyphs" >3</text><path d="M412.5 185.3l6.5-3.2" stroke="#cfd2d6" stroke-width="1"/><path d="M418.2 184.3l2.4-3.6l2.2 3.6z" fill="#eef0f2"/><path d="M425 181.3l3 3M428 181.3l-3 3" stroke="#cfd2d6" stroke-width="0.9"/><text x="419.68" y="189.00" font-size="6.1" fill="#dcdfe2" textLength="3.07" lengthAdjust="spacingAndGlyphs" >4</text><text x="396.40" y="140.60" font-size="8.54" fill="#dfe1e4" textLength="15.65" lengthAdjust="spacingAndGlyphs" >-F01</text><text x="395.69" y="177.20" font-size="8.54" fill="#dfe1e4" textLength="15.97" lengthAdjust="spacingAndGlyphs" >-F02</text><text x="432.63" y="150.20" font-size="6.59" fill="#dcdfe2" textLength="11.94" lengthAdjust="spacingAndGlyphs" >%F1</text><text x="432.83" y="187.20" font-size="6.59" fill="#dcdfe2" textLength="11.42" lengthAdjust="spacingAndGlyphs" >%F2</text><line x1="456.50" y1="200.60" x2="972.00" y2="200.60" stroke="#cfd2d6" stroke-width="1.4"  vector-effect="non-scaling-stroke"/><path d="M971 197.7L978.5 200.6L971 203.5z" fill="#cfd2d6"/><text x="954.41" y="198.40" font-size="6.59" fill="#e4e6e8" textLength="17.48" lengthAdjust="spacingAndGlyphs" >1L1-L3</text><circle cx="494.2" cy="200.6" r="2.4" fill="#eef0f2"/><line x1="494.20" y1="200.60" x2="494.20" y2="231.00" stroke="#cfd2d6" stroke-width="1.3"  vector-effect="non-scaling-stroke"/><line x1="494.20" y1="242.60" x2="488.80" y2="230.80" stroke="#cfd2d6" stroke-width="1.2"  vector-effect="non-scaling-stroke"/><line x1="494.20" y1="242.60" x2="494.20" y2="412.50" stroke="#cfd2d6" stroke-width="1.3"  vector-effect="non-scaling-stroke"/><path d="M483.7 239.2q2-2.6 4.8-2.6l0.4 2.2z" fill="#cfd2d6"/><path d="M492.2 239.5l4.5 2M493.9 238.3l-2 4.4M489.4 242v3" stroke="#cfd2d6" stroke-width="0.8"/><text x="464.49" y="232.60" font-size="8.54" fill="#dfe1e4" textLength="16.09" lengthAdjust="spacingAndGlyphs" >-F03</text><text x="497.17" y="242.60" font-size="6.59" fill="#dcdfe2" textLength="6.83" lengthAdjust="spacingAndGlyphs" >16</text><polyline points="494.20,279.30 498.40,283.50 586.40,283.50 586.40,304.00" fill="none" stroke="#cfd2d6" stroke-width="1.2"  vector-effect="non-scaling-stroke"/><polyline points="586.40,319.00 586.40,339.00 498.40,339.00 494.20,343.20" fill="none" stroke="#cfd2d6" stroke-width="1.2"  vector-effect="non-scaling-stroke"/><polyline points="535.40,283.50 539.80,287.90 539.80,304.00" fill="none" stroke="#cfd2d6" stroke-width="1.2"  vector-effect="non-scaling-stroke"/><polyline points="539.80,319.00 539.80,334.60 535.40,339.00" fill="none" stroke="#cfd2d6" stroke-width="1.2"  vector-effect="non-scaling-stroke"/><rect x="530.40" y="301.7" width="19.6" height="18.6" fill="none" stroke="#c9ccd0" stroke-width="1" stroke-dasharray="2.2 1.6" vector-effect="non-scaling-stroke"/><line x1="534.00" y1="304.80" x2="540.00" y2="319.20" stroke="#cfd2d6" stroke-width="1.1"  vector-effect="non-scaling-stroke"/><text x="542.93" y="313.60" font-size="6.83" fill="#dcdfe2" textLength="4.12" lengthAdjust="spacingAndGlyphs" >A</text><text x="507.26" y="312.10" font-size="8.3" fill="#e0e2e5" textLength="22.44" lengthAdjust="spacingAndGlyphs" >-1.1.101</text><text x="515.30" y="321.10" font-size="7.56" fill="#e0e2e5" textLength="13.67" lengthAdjust="spacingAndGlyphs" >/07.2</text><rect x="576.40" y="301.7" width="19.6" height="18.6" fill="none" stroke="#c9ccd0" stroke-width="1" stroke-dasharray="2.2 1.6" vector-effect="non-scaling-stroke"/><line x1="580.00" y1="304.80" x2="586.00" y2="319.20" stroke="#cfd2d6" stroke-width="1.1"  vector-effect="non-scaling-stroke"/><text x="588.84" y="313.60" font-size="6.83" fill="#dcdfe2" textLength="4.12" lengthAdjust="spacingAndGlyphs" >B</text><text x="553.66" y="312.10" font-size="8.3" fill="#e0e2e5" textLength="22.44" lengthAdjust="spacingAndGlyphs" >-1.1.101</text><text x="561.70" y="321.10" font-size="7.56" fill="#e0e2e5" textLength="13.67" lengthAdjust="spacingAndGlyphs" >/07.2</text><text x="477.29" y="408.60" font-size="8.3" fill="#e0e2e5" textLength="16.34" lengthAdjust="spacingAndGlyphs" >-X01</text><rect x="489.00" y="412.6" width="9.47" height="27.9" fill="none" stroke="#c9ccd0" stroke-width="1.1" vector-effect="non-scaling-stroke"/><rect x="498.47" y="412.6" width="9.47" height="27.9" fill="none" stroke="#c9ccd0" stroke-width="1.1" vector-effect="non-scaling-stroke"/><rect x="507.94" y="412.6" width="9.47" height="27.9" fill="none" stroke="#c9ccd0" stroke-width="1.1" vector-effect="non-scaling-stroke"/><text transform="translate(495.97 437.00) rotate(-90)" x="-0.15" y="0" font-size="6.59" fill="#dcdfe2" textLength="4.14" lengthAdjust="spacingAndGlyphs">4</text><text transform="translate(505.44 437.00) rotate(-90)" x="-0.53" y="0" font-size="6.59" fill="#dcdfe2" textLength="4.81" lengthAdjust="spacingAndGlyphs">N</text><text transform="translate(514.91 437.00) rotate(-90)" x="-0.47" y="0" font-size="6.59" fill="#dcdfe2" textLength="7.87" lengthAdjust="spacingAndGlyphs">PE</text><text x="495.90" y="467.40" font-size="5.86" fill="#e2e4e6" textLength="14.43" lengthAdjust="spacingAndGlyphs" >THWN</text><text x="491.46" y="485.30" font-size="5.86" fill="#e2e4e6" textLength="23.15" lengthAdjust="spacingAndGlyphs" >%CIRCNO</text><text transform="translate(495.02 520.00) rotate(-90)" x="-0.14" y="0" font-size="5.86" fill="#cfd2d6" textLength="16.18" lengthAdjust="spacingAndGlyphs">%PLC1</text><text transform="translate(541.82 520.00) rotate(-90)" x="-0.14" y="0" font-size="5.86" fill="#cfd2d6" textLength="16.18" lengthAdjust="spacingAndGlyphs">%PLC2</text><circle cx="650.7" cy="200.6" r="2.4" fill="#eef0f2"/><line x1="650.70" y1="200.60" x2="650.70" y2="231.00" stroke="#cfd2d6" stroke-width="1.3"  vector-effect="non-scaling-stroke"/><line x1="650.70" y1="242.60" x2="645.30" y2="230.80" stroke="#cfd2d6" stroke-width="1.2"  vector-effect="non-scaling-stroke"/><line x1="650.70" y1="242.60" x2="650.70" y2="412.50" stroke="#cfd2d6" stroke-width="1.3"  vector-effect="non-scaling-stroke"/><path d="M640.2 239.2q2-2.6 4.8-2.6l0.4 2.2z" fill="#cfd2d6"/><path d="M648.7 239.5l4.5 2M650.4000000000001 238.3l-2 4.4M645.9000000000001 242v3" stroke="#cfd2d6" stroke-width="0.8"/><text x="620.99" y="232.60" font-size="8.54" fill="#dfe1e4" textLength="16.01" lengthAdjust="spacingAndGlyphs" >-F04</text><text x="653.80" y="242.60" font-size="6.59" fill="#dcdfe2" textLength="6.69" lengthAdjust="spacingAndGlyphs" >20</text><polyline points="650.70,279.30 654.90,283.50 742.90,283.50 742.90,304.00" fill="none" stroke="#cfd2d6" stroke-width="1.2"  vector-effect="non-scaling-stroke"/><polyline points="742.90,319.00 742.90,339.00 654.90,339.00 650.70,343.20" fill="none" stroke="#cfd2d6" stroke-width="1.2"  vector-effect="non-scaling-stroke"/><polyline points="691.90,283.50 696.30,287.90 696.30,304.00" fill="none" stroke="#cfd2d6" stroke-width="1.2"  vector-effect="non-scaling-stroke"/><polyline points="696.30,319.00 696.30,334.60 691.90,339.00" fill="none" stroke="#cfd2d6" stroke-width="1.2"  vector-effect="non-scaling-stroke"/><rect x="686.90" y="301.7" width="19.6" height="18.6" fill="none" stroke="#c9ccd0" stroke-width="1" stroke-dasharray="2.2 1.6" vector-effect="non-scaling-stroke"/><line x1="690.50" y1="304.80" x2="696.50" y2="319.20" stroke="#cfd2d6" stroke-width="1.1"  vector-effect="non-scaling-stroke"/><text x="699.21" y="313.60" font-size="6.83" fill="#dcdfe2" textLength="4.47" lengthAdjust="spacingAndGlyphs" >C</text><text x="663.76" y="312.10" font-size="8.3" fill="#e0e2e5" textLength="22.44" lengthAdjust="spacingAndGlyphs" >-1.1.101</text><text x="671.80" y="321.10" font-size="7.56" fill="#e0e2e5" textLength="13.67" lengthAdjust="spacingAndGlyphs" >/07.2</text><rect x="732.90" y="301.7" width="19.6" height="18.6" fill="none" stroke="#c9ccd0" stroke-width="1" stroke-dasharray="2.2 1.6" vector-effect="non-scaling-stroke"/><line x1="736.50" y1="304.80" x2="742.50" y2="319.20" stroke="#cfd2d6" stroke-width="1.1"  vector-effect="non-scaling-stroke"/><text x="745.15" y="313.60" font-size="6.83" fill="#dcdfe2" textLength="4.47" lengthAdjust="spacingAndGlyphs" >D</text><text x="710.16" y="312.10" font-size="8.3" fill="#e0e2e5" textLength="22.44" lengthAdjust="spacingAndGlyphs" >-1.1.101</text><text x="718.20" y="321.10" font-size="7.56" fill="#e0e2e5" textLength="13.67" lengthAdjust="spacingAndGlyphs" >/07.2</text><text x="633.79" y="408.60" font-size="8.3" fill="#e0e2e5" textLength="16.34" lengthAdjust="spacingAndGlyphs" >-X01</text><rect x="645.50" y="412.6" width="9.47" height="27.9" fill="none" stroke="#c9ccd0" stroke-width="1.1" vector-effect="non-scaling-stroke"/><rect x="654.97" y="412.6" width="9.47" height="27.9" fill="none" stroke="#c9ccd0" stroke-width="1.1" vector-effect="non-scaling-stroke"/><rect x="664.44" y="412.6" width="9.47" height="27.9" fill="none" stroke="#c9ccd0" stroke-width="1.1" vector-effect="non-scaling-stroke"/><text transform="translate(652.44 437.00) rotate(-90)" x="-0.32" y="0" font-size="6.59" fill="#dcdfe2" textLength="4.40" lengthAdjust="spacingAndGlyphs">5</text><text transform="translate(661.94 437.00) rotate(-90)" x="-0.53" y="0" font-size="6.59" fill="#dcdfe2" textLength="4.81" lengthAdjust="spacingAndGlyphs">N</text><text transform="translate(671.41 437.00) rotate(-90)" x="-0.47" y="0" font-size="6.59" fill="#dcdfe2" textLength="7.87" lengthAdjust="spacingAndGlyphs">PE</text><text x="652.40" y="467.40" font-size="5.86" fill="#e2e4e6" textLength="14.43" lengthAdjust="spacingAndGlyphs" >THWN</text><text x="647.96" y="485.30" font-size="5.86" fill="#e2e4e6" textLength="23.15" lengthAdjust="spacingAndGlyphs" >%CIRCNO</text><text transform="translate(653.27 520.00) rotate(-90)" x="-0.14" y="0" font-size="5.86" fill="#cfd2d6" textLength="16.14" lengthAdjust="spacingAndGlyphs">%PLC3</text><text transform="translate(698.62 520.00) rotate(-90)" x="-0.14" y="0" font-size="5.86" fill="#cfd2d6" textLength="16.09" lengthAdjust="spacingAndGlyphs">%PLC4</text><circle cx="807.8" cy="200.6" r="2.4" fill="#eef0f2"/><line x1="807.80" y1="200.60" x2="807.80" y2="231.00" stroke="#cfd2d6" stroke-width="1.3"  vector-effect="non-scaling-stroke"/><line x1="807.80" y1="242.60" x2="802.40" y2="230.80" stroke="#cfd2d6" stroke-width="1.2"  vector-effect="non-scaling-stroke"/><line x1="807.80" y1="242.60" x2="807.80" y2="412.50" stroke="#cfd2d6" stroke-width="1.3"  vector-effect="non-scaling-stroke"/><path d="M797.3 239.2q2-2.6 4.8-2.6l0.4 2.2z" fill="#cfd2d6"/><path d="M805.8 239.5l4.5 2M807.5 238.3l-2 4.4M803.0 242v3" stroke="#cfd2d6" stroke-width="0.8"/><text x="778.09" y="232.60" font-size="8.54" fill="#dfe1e4" textLength="16.09" lengthAdjust="spacingAndGlyphs" >-F05</text><text x="810.90" y="242.60" font-size="6.59" fill="#dcdfe2" textLength="6.69" lengthAdjust="spacingAndGlyphs" >20</text><polyline points="807.80,279.30 812.00,283.50 900.00,283.50 900.00,304.00" fill="none" stroke="#cfd2d6" stroke-width="1.2"  vector-effect="non-scaling-stroke"/><polyline points="900.00,319.00 900.00,339.00 812.00,339.00 807.80,343.20" fill="none" stroke="#cfd2d6" stroke-width="1.2"  vector-effect="non-scaling-stroke"/><polyline points="849.00,283.50 853.40,287.90 853.40,304.00" fill="none" stroke="#cfd2d6" stroke-width="1.2"  vector-effect="non-scaling-stroke"/><polyline points="853.40,319.00 853.40,334.60 849.00,339.00" fill="none" stroke="#cfd2d6" stroke-width="1.2"  vector-effect="non-scaling-stroke"/><rect x="844.00" y="301.7" width="19.6" height="18.6" fill="none" stroke="#c9ccd0" stroke-width="1" stroke-dasharray="2.2 1.6" vector-effect="non-scaling-stroke"/><line x1="847.60" y1="304.80" x2="853.60" y2="319.20" stroke="#cfd2d6" stroke-width="1.1"  vector-effect="non-scaling-stroke"/><text x="856.40" y="313.60" font-size="6.83" fill="#dcdfe2" textLength="4.12" lengthAdjust="spacingAndGlyphs" >E</text><text x="820.86" y="312.10" font-size="8.3" fill="#e0e2e5" textLength="22.44" lengthAdjust="spacingAndGlyphs" >-1.1.101</text><text x="828.90" y="321.10" font-size="7.56" fill="#e0e2e5" textLength="13.67" lengthAdjust="spacingAndGlyphs" >/07.2</text><rect x="890.00" y="301.7" width="19.6" height="18.6" fill="none" stroke="#c9ccd0" stroke-width="1" stroke-dasharray="2.2 1.6" vector-effect="non-scaling-stroke"/><line x1="893.60" y1="304.80" x2="899.60" y2="319.20" stroke="#cfd2d6" stroke-width="1.1"  vector-effect="non-scaling-stroke"/><text x="902.56" y="313.60" font-size="6.83" fill="#dcdfe2" textLength="3.78" lengthAdjust="spacingAndGlyphs" >F</text><text x="867.26" y="312.10" font-size="8.3" fill="#e0e2e5" textLength="22.44" lengthAdjust="spacingAndGlyphs" >-1.1.101</text><text x="875.30" y="321.10" font-size="7.56" fill="#e0e2e5" textLength="13.67" lengthAdjust="spacingAndGlyphs" >/07.2</text><text x="790.89" y="408.60" font-size="8.3" fill="#e0e2e5" textLength="16.34" lengthAdjust="spacingAndGlyphs" >-X01</text><rect x="802.60" y="412.6" width="9.47" height="27.9" fill="none" stroke="#c9ccd0" stroke-width="1.1" vector-effect="non-scaling-stroke"/><rect x="812.07" y="412.6" width="9.47" height="27.9" fill="none" stroke="#c9ccd0" stroke-width="1.1" vector-effect="non-scaling-stroke"/><rect x="821.54" y="412.6" width="9.47" height="27.9" fill="none" stroke="#c9ccd0" stroke-width="1.1" vector-effect="non-scaling-stroke"/><text transform="translate(809.57 437.00) rotate(-90)" x="-0.40" y="0" font-size="6.59" fill="#dcdfe2" textLength="4.50" lengthAdjust="spacingAndGlyphs">6</text><text transform="translate(819.04 437.00) rotate(-90)" x="-0.53" y="0" font-size="6.59" fill="#dcdfe2" textLength="4.81" lengthAdjust="spacingAndGlyphs">N</text><text transform="translate(828.51 437.00) rotate(-90)" x="-0.47" y="0" font-size="6.59" fill="#dcdfe2" textLength="7.87" lengthAdjust="spacingAndGlyphs">PE</text><text x="809.50" y="467.40" font-size="5.86" fill="#e2e4e6" textLength="14.43" lengthAdjust="spacingAndGlyphs" >THWN</text><text x="805.06" y="485.30" font-size="5.86" fill="#e2e4e6" textLength="23.15" lengthAdjust="spacingAndGlyphs" >%CIRCNO</text><text transform="translate(809.52 520.00) rotate(-90)" x="-0.14" y="0" font-size="5.86" fill="#cfd2d6" textLength="16.14" lengthAdjust="spacingAndGlyphs">%PLC5</text><text transform="translate(855.77 520.00) rotate(-90)" x="-0.14" y="0" font-size="5.86" fill="#cfd2d6" textLength="16.14" lengthAdjust="spacingAndGlyphs">%PLC6</text><line x1="328.00" y1="371.40" x2="322.60" y2="361.00" stroke="#cfd2d6" stroke-width="1.2"  vector-effect="non-scaling-stroke"/><rect x="318.6" y="394.5" width="19.2" height="18.1" fill="none" stroke="#c9ccd0" stroke-width="1.1" vector-effect="non-scaling-stroke"/><line x1="328.00" y1="394.50" x2="328.00" y2="412.60" stroke="#cfd2d6" stroke-width="1.2"  vector-effect="non-scaling-stroke"/><path d="M305.3 371h2.6v-8.8h4.2M312.5 364.5l2.8 5.5l2.8-5.5" fill="none" stroke="#cfd2d6" stroke-width="0.9"/><text x="318.40" y="374.60" font-size="5.61" fill="#dcdfe2" textLength="2.82" lengthAdjust="spacingAndGlyphs" >3</text><path d="M321 366.3l3.5 3.8M324.5 366.3l-3.5 3.8" stroke="#cfd2d6" stroke-width="0.8"/><text x="291.34" y="367.80" font-size="8.54" fill="#dfe1e4" textLength="13.53" lengthAdjust="spacingAndGlyphs" >-S01</text><text x="330.83" y="370.10" font-size="6.59" fill="#dcdfe2" textLength="11.73" lengthAdjust="spacingAndGlyphs" >%F1</text><text x="300.32" y="409.60" font-size="8.3" fill="#e0e2e5" textLength="14.67" lengthAdjust="spacingAndGlyphs" >-X01</text><rect x="313.60" y="412.6" width="9.48" height="28.1" fill="none" stroke="#c9ccd0" stroke-width="1.1" vector-effect="non-scaling-stroke"/><rect x="323.08" y="412.6" width="9.48" height="28.1" fill="none" stroke="#c9ccd0" stroke-width="1.1" vector-effect="non-scaling-stroke"/><rect x="332.56" y="412.6" width="9.48" height="28.1" fill="none" stroke="#c9ccd0" stroke-width="1.1" vector-effect="non-scaling-stroke"/><rect x="342.04" y="412.6" width="9.48" height="28.1" fill="none" stroke="#c9ccd0" stroke-width="1.1" vector-effect="non-scaling-stroke"/><rect x="351.52" y="412.6" width="9.48" height="28.1" fill="none" stroke="#c9ccd0" stroke-width="1.1" vector-effect="non-scaling-stroke"/><text transform="translate(320.57 437.50) rotate(-90)" x="-0.60" y="0" font-size="6.59" fill="#dcdfe2" textLength="4.80" lengthAdjust="spacingAndGlyphs">1</text><text transform="translate(330.09 437.50) rotate(-90)" x="-0.41" y="0" font-size="6.59" fill="#dcdfe2" textLength="4.59" lengthAdjust="spacingAndGlyphs">2</text><text transform="translate(339.53 437.50) rotate(-90)" x="-0.23" y="0" font-size="6.59" fill="#dcdfe2" textLength="4.31" lengthAdjust="spacingAndGlyphs">3</text><text transform="translate(349.01 437.50) rotate(-90)" x="-0.53" y="0" font-size="6.59" fill="#dcdfe2" textLength="4.81" lengthAdjust="spacingAndGlyphs">N</text><text transform="translate(358.49 437.50) rotate(-90)" x="-0.47" y="0" font-size="6.59" fill="#dcdfe2" textLength="7.87" lengthAdjust="spacingAndGlyphs">PE</text><line x1="265.60" y1="412.80" x2="1017.40" y2="412.80" stroke="#7f2385" stroke-width="2.3"  vector-effect="non-scaling-stroke"/><line x1="265.60" y1="459.00" x2="1017.40" y2="459.00" stroke="#7f2385" stroke-width="2.3"  vector-effect="non-scaling-stroke"/><line x1="265.60" y1="477.10" x2="1017.40" y2="477.10" stroke="#7f2385" stroke-width="2.3"  vector-effect="non-scaling-stroke"/><line x1="265.60" y1="495.70" x2="1017.40" y2="495.70" stroke="#7f2385" stroke-width="2.3"  vector-effect="non-scaling-stroke"/><line x1="310.00" y1="412.80" x2="310.00" y2="600.00" stroke="#7f2385" stroke-width="2.3"  vector-effect="non-scaling-stroke"/><line x1="392.40" y1="412.60" x2="392.40" y2="600.00" stroke="#45b3a8" stroke-width="1.4" stroke-dasharray="10.5 3.8" vector-effect="non-scaling-stroke"/><line x1="475.40" y1="412.60" x2="475.40" y2="600.00" stroke="#45b3a8" stroke-width="1.4" stroke-dasharray="10.5 3.8" vector-effect="non-scaling-stroke"/><line x1="632.30" y1="412.60" x2="632.30" y2="600.00" stroke="#45b3a8" stroke-width="1.4" stroke-dasharray="10.5 3.8" vector-effect="non-scaling-stroke"/><line x1="789.20" y1="412.60" x2="789.20" y2="600.00" stroke="#45b3a8" stroke-width="1.4" stroke-dasharray="10.5 3.8" vector-effect="non-scaling-stroke"/><text x="271.80" y="433.60" font-size="7.56" fill="#e0e2e5" textLength="22.73" lengthAdjust="spacingAndGlyphs" >Klemme</text><text x="271.80" y="469.60" font-size="7.56" fill="#e0e2e5" textLength="24.40" lengthAdjust="spacingAndGlyphs" >Kabeltyp</text><text x="271.75" y="488.50" font-size="7.56" fill="#e0e2e5" textLength="30.43" lengthAdjust="spacingAndGlyphs" >Stromkreis</text><text x="324.83" y="468.00" font-size="7.56" fill="#e8eaec" textLength="23.38" lengthAdjust="spacingAndGlyphs" >%CABLE</text><text x="322.31" y="486.90" font-size="7.56" fill="#e8eaec" textLength="29.96" lengthAdjust="spacingAndGlyphs" >%CIRCNO</text><text x="410.67" y="467.40" font-size="5.86" fill="#e2e4e6" textLength="18.71" lengthAdjust="spacingAndGlyphs" >%CABLE</text><text x="408.86" y="485.30" font-size="5.86" fill="#e2e4e6" textLength="22.34" lengthAdjust="spacingAndGlyphs" >%CIRCNO</text><text transform="translate(417.32 535.40) rotate(-90)" x="-0.14" y="0" font-size="5.86" fill="#cfd2d6" textLength="31.14" lengthAdjust="spacingAndGlyphs">%CIRCDESCR</text><text transform="translate(293.53 574.00) rotate(-90)" x="-0.27" y="0" font-size="7.56" fill="#dcdfe2" textLength="71.48" lengthAdjust="spacingAndGlyphs">Stromkreisbezeichnung</text></g>
<path d="M221 600V84.4" stroke="#8d939b" stroke-width="2"/><path d="M220 83.5H1030" stroke="#a9aeb5" stroke-width="1.6"/>
<rect x="222.5" y="84.8" width="2.6" height="2.6" fill="#1a1e25" stroke="#c9ccd0" stroke-width="0.9"/>
<rect x="1021.6" y="94.2" width="4" height="1.9" rx="0.9" fill="#eef0f2"/>
</g>
<clipPath id="cpp"><rect x="4.5" y="479" width="193" height="89"/></clipPath>
<g clip-path="url(#cpp)"><g transform="translate(-55.1,465) scale(0.242)"><polyline points="254.50,600.00 254.50,86.70 1034.60,86.70 1034.60,600.00" fill="none" stroke="#b4b8bd" stroke-width="2.90" /><line x1="265.50" y1="86.70" x2="265.50" y2="92.00" stroke="#b4b8bd" stroke-width="2.90" /><line x1="312.50" y1="86.70" x2="312.50" y2="92.00" stroke="#b4b8bd" stroke-width="2.90" /><line x1="359.50" y1="86.70" x2="359.50" y2="92.00" stroke="#b4b8bd" stroke-width="2.90" /><line x1="406.50" y1="86.70" x2="406.50" y2="92.00" stroke="#b4b8bd" stroke-width="2.90" /><line x1="453.50" y1="86.70" x2="453.50" y2="92.00" stroke="#b4b8bd" stroke-width="2.90" /><line x1="500.50" y1="86.70" x2="500.50" y2="92.00" stroke="#b4b8bd" stroke-width="2.90" /><line x1="547.50" y1="86.70" x2="547.50" y2="92.00" stroke="#b4b8bd" stroke-width="2.90" /><line x1="594.50" y1="86.70" x2="594.50" y2="92.00" stroke="#b4b8bd" stroke-width="2.90" /><line x1="641.50" y1="86.70" x2="641.50" y2="92.00" stroke="#b4b8bd" stroke-width="2.90" /><line x1="688.50" y1="86.70" x2="688.50" y2="92.00" stroke="#b4b8bd" stroke-width="2.90" /><line x1="735.50" y1="86.70" x2="735.50" y2="92.00" stroke="#b4b8bd" stroke-width="2.90" /><line x1="782.50" y1="86.70" x2="782.50" y2="92.00" stroke="#b4b8bd" stroke-width="2.90" /><line x1="829.50" y1="86.70" x2="829.50" y2="92.00" stroke="#b4b8bd" stroke-width="2.90" /><line x1="876.50" y1="86.70" x2="876.50" y2="92.00" stroke="#b4b8bd" stroke-width="2.90" /><line x1="923.50" y1="86.70" x2="923.50" y2="92.00" stroke="#b4b8bd" stroke-width="2.90" /><line x1="970.50" y1="86.70" x2="970.50" y2="92.00" stroke="#b4b8bd" stroke-width="2.90" /><line x1="1017.50" y1="86.70" x2="1017.50" y2="92.00" stroke="#b4b8bd" stroke-width="2.90" /><line x1="254.50" y1="179.40" x2="259.00" y2="179.40" stroke="#b4b8bd" stroke-width="2.90" /><line x1="1030.00" y1="179.40" x2="1034.60" y2="179.40" stroke="#b4b8bd" stroke-width="2.90" /><line x1="254.50" y1="261.10" x2="259.00" y2="261.10" stroke="#b4b8bd" stroke-width="2.90" /><line x1="1030.00" y1="261.10" x2="1034.60" y2="261.10" stroke="#b4b8bd" stroke-width="2.90" /><line x1="254.50" y1="342.80" x2="259.00" y2="342.80" stroke="#b4b8bd" stroke-width="2.90" /><line x1="1030.00" y1="342.80" x2="1034.60" y2="342.80" stroke="#b4b8bd" stroke-width="2.90" /><line x1="254.50" y1="424.80" x2="259.00" y2="424.80" stroke="#b4b8bd" stroke-width="2.90" /><line x1="1030.00" y1="424.80" x2="1034.60" y2="424.80" stroke="#b4b8bd" stroke-width="2.90" /><line x1="254.50" y1="506.60" x2="259.00" y2="506.60" stroke="#b4b8bd" stroke-width="2.90" /><line x1="1030.00" y1="506.60" x2="1034.60" y2="506.60" stroke="#b4b8bd" stroke-width="2.90" /><polyline points="328.00,360.80 328.00,117.70 972.00,117.70" fill="none" stroke="#bcc0c5" stroke-width="4.06" /><line x1="328.00" y1="371.40" x2="328.00" y2="394.50" stroke="#bcc0c5" stroke-width="3.77" /><path d="M971 114.8L978.5 117.7L971 120.6z" fill="#cfd2d6"/><text stroke="#e6e8ea" stroke-width="1.30" x="956.32" y="115.60" font-size="6.59" fill="#e4e6e8" textLength="15.41" lengthAdjust="spacingAndGlyphs" >L1-L3</text><circle cx="429.3" cy="117.7" r="2.4" fill="#eef0f2"/><line x1="429.30" y1="117.70" x2="429.30" y2="138.60" stroke="#bcc0c5" stroke-width="3.77" /><line x1="430.00" y1="152.30" x2="423.20" y2="138.60" stroke="#bcc0c5" stroke-width="3.77" /><line x1="423.20" y1="138.60" x2="425.20" y2="137.20" stroke="#bcc0c5" stroke-width="2.90" /><line x1="429.30" y1="152.30" x2="429.30" y2="175.70" stroke="#bcc0c5" stroke-width="3.77" /><line x1="430.00" y1="186.20" x2="423.20" y2="176.30" stroke="#bcc0c5" stroke-width="3.77" /><line x1="429.30" y1="186.20" x2="429.30" y2="201.00" stroke="#bcc0c5" stroke-width="3.77" /><path d="M416 142.2h3.2v-2h3.5v3M416 145.2h3.2v2h3.5v-3M417.5 142.2v3" stroke="#bcc0c5" stroke-width="3.19" fill="none"/><path d="M415.3 152l2.6-3.8l2.6 3.8z" fill="#eef0f2"/><text stroke="#e6e8ea" stroke-width="1.30" x="417.08" y="158.80" font-size="6.1" fill="#dcdfe2" textLength="3.07" lengthAdjust="spacingAndGlyphs" >3</text><path d="M412.5 185.3l6.5-3.2" stroke="#bcc0c5" stroke-width="2.90"/><path d="M418.2 184.3l2.4-3.6l2.2 3.6z" fill="#eef0f2"/><path d="M425 181.3l3 3M428 181.3l-3 3" stroke="#bcc0c5" stroke-width="2.61"/><text stroke="#e6e8ea" stroke-width="1.30" x="419.68" y="189.00" font-size="6.1" fill="#dcdfe2" textLength="3.07" lengthAdjust="spacingAndGlyphs" >4</text><text stroke="#e6e8ea" stroke-width="1.30" x="396.40" y="140.60" font-size="8.54" fill="#dfe1e4" textLength="15.65" lengthAdjust="spacingAndGlyphs" >-F01</text><text stroke="#e6e8ea" stroke-width="1.30" x="395.69" y="177.20" font-size="8.54" fill="#dfe1e4" textLength="15.97" lengthAdjust="spacingAndGlyphs" >-F02</text><text stroke="#e6e8ea" stroke-width="1.30" x="432.63" y="150.20" font-size="6.59" fill="#dcdfe2" textLength="11.94" lengthAdjust="spacingAndGlyphs" >%F1</text><text stroke="#e6e8ea" stroke-width="1.30" x="432.83" y="187.20" font-size="6.59" fill="#dcdfe2" textLength="11.42" lengthAdjust="spacingAndGlyphs" >%F2</text><line x1="456.50" y1="200.60" x2="972.00" y2="200.60" stroke="#bcc0c5" stroke-width="4.06" /><path d="M971 197.7L978.5 200.6L971 203.5z" fill="#cfd2d6"/><text stroke="#e6e8ea" stroke-width="1.30" x="954.41" y="198.40" font-size="6.59" fill="#e4e6e8" textLength="17.48" lengthAdjust="spacingAndGlyphs" >1L1-L3</text><circle cx="494.2" cy="200.6" r="2.4" fill="#eef0f2"/><line x1="494.20" y1="200.60" x2="494.20" y2="231.00" stroke="#bcc0c5" stroke-width="3.77" /><line x1="494.20" y1="242.60" x2="488.80" y2="230.80" stroke="#bcc0c5" stroke-width="3.48" /><line x1="494.20" y1="242.60" x2="494.20" y2="412.50" stroke="#bcc0c5" stroke-width="3.77" /><path d="M483.7 239.2q2-2.6 4.8-2.6l0.4 2.2z" fill="#cfd2d6"/><path d="M492.2 239.5l4.5 2M493.9 238.3l-2 4.4M489.4 242v3" stroke="#bcc0c5" stroke-width="2.32"/><text stroke="#e6e8ea" stroke-width="1.30" x="464.49" y="232.60" font-size="8.54" fill="#dfe1e4" textLength="16.09" lengthAdjust="spacingAndGlyphs" >-F03</text><text stroke="#e6e8ea" stroke-width="1.30" x="497.17" y="242.60" font-size="6.59" fill="#dcdfe2" textLength="6.83" lengthAdjust="spacingAndGlyphs" >16</text><polyline points="494.20,279.30 498.40,283.50 586.40,283.50 586.40,304.00" fill="none" stroke="#bcc0c5" stroke-width="3.48" /><polyline points="586.40,319.00 586.40,339.00 498.40,339.00 494.20,343.20" fill="none" stroke="#bcc0c5" stroke-width="3.48" /><polyline points="535.40,283.50 539.80,287.90 539.80,304.00" fill="none" stroke="#bcc0c5" stroke-width="3.48" /><polyline points="539.80,319.00 539.80,334.60 535.40,339.00" fill="none" stroke="#bcc0c5" stroke-width="3.48" /><rect x="530.40" y="301.7" width="19.6" height="18.6" fill="none" stroke="#c9ccd0" stroke-width="2.90" stroke-dasharray="2.2 1.6"/><line x1="534.00" y1="304.80" x2="540.00" y2="319.20" stroke="#bcc0c5" stroke-width="3.19" /><text stroke="#e6e8ea" stroke-width="1.30" x="542.93" y="313.60" font-size="6.83" fill="#dcdfe2" textLength="4.12" lengthAdjust="spacingAndGlyphs" >A</text><text stroke="#e6e8ea" stroke-width="1.30" x="507.26" y="312.10" font-size="8.3" fill="#e0e2e5" textLength="22.44" lengthAdjust="spacingAndGlyphs" >-1.1.101</text><text stroke="#e6e8ea" stroke-width="1.30" x="515.30" y="321.10" font-size="7.56" fill="#e0e2e5" textLength="13.67" lengthAdjust="spacingAndGlyphs" >/07.2</text><rect x="576.40" y="301.7" width="19.6" height="18.6" fill="none" stroke="#c9ccd0" stroke-width="2.90" stroke-dasharray="2.2 1.6"/><line x1="580.00" y1="304.80" x2="586.00" y2="319.20" stroke="#bcc0c5" stroke-width="3.19" /><text stroke="#e6e8ea" stroke-width="1.30" x="588.84" y="313.60" font-size="6.83" fill="#dcdfe2" textLength="4.12" lengthAdjust="spacingAndGlyphs" >B</text><text stroke="#e6e8ea" stroke-width="1.30" x="553.66" y="312.10" font-size="8.3" fill="#e0e2e5" textLength="22.44" lengthAdjust="spacingAndGlyphs" >-1.1.101</text><text stroke="#e6e8ea" stroke-width="1.30" x="561.70" y="321.10" font-size="7.56" fill="#e0e2e5" textLength="13.67" lengthAdjust="spacingAndGlyphs" >/07.2</text><text stroke="#e6e8ea" stroke-width="1.30" x="477.29" y="408.60" font-size="8.3" fill="#e0e2e5" textLength="16.34" lengthAdjust="spacingAndGlyphs" >-X01</text><rect x="489.00" y="412.6" width="9.47" height="27.9" fill="none" stroke="#c9ccd0" stroke-width="3.19"/><rect x="498.47" y="412.6" width="9.47" height="27.9" fill="none" stroke="#c9ccd0" stroke-width="3.19"/><rect x="507.94" y="412.6" width="9.47" height="27.9" fill="none" stroke="#c9ccd0" stroke-width="3.19"/><text stroke="#e6e8ea" stroke-width="1.30" transform="translate(495.97 437.00) rotate(-90)" x="-0.15" y="0" font-size="6.59" fill="#dcdfe2" textLength="4.14" lengthAdjust="spacingAndGlyphs">4</text><text stroke="#e6e8ea" stroke-width="1.30" transform="translate(505.44 437.00) rotate(-90)" x="-0.53" y="0" font-size="6.59" fill="#dcdfe2" textLength="4.81" lengthAdjust="spacingAndGlyphs">N</text><text stroke="#e6e8ea" stroke-width="1.30" transform="translate(514.91 437.00) rotate(-90)" x="-0.47" y="0" font-size="6.59" fill="#dcdfe2" textLength="7.87" lengthAdjust="spacingAndGlyphs">PE</text><text stroke="#e6e8ea" stroke-width="1.30" x="495.90" y="467.40" font-size="5.86" fill="#e2e4e6" textLength="14.43" lengthAdjust="spacingAndGlyphs" >THWN</text><text stroke="#e6e8ea" stroke-width="1.30" x="491.46" y="485.30" font-size="5.86" fill="#e2e4e6" textLength="23.15" lengthAdjust="spacingAndGlyphs" >%CIRCNO</text><text transform="translate(495.02 520.00) rotate(-90)" x="-0.14" y="0" font-size="5.86" fill="#cfd2d6" textLength="16.18" lengthAdjust="spacingAndGlyphs">%PLC1</text><text transform="translate(541.82 520.00) rotate(-90)" x="-0.14" y="0" font-size="5.86" fill="#cfd2d6" textLength="16.18" lengthAdjust="spacingAndGlyphs">%PLC2</text><circle cx="650.7" cy="200.6" r="2.4" fill="#eef0f2"/><line x1="650.70" y1="200.60" x2="650.70" y2="231.00" stroke="#bcc0c5" stroke-width="3.77" /><line x1="650.70" y1="242.60" x2="645.30" y2="230.80" stroke="#bcc0c5" stroke-width="3.48" /><line x1="650.70" y1="242.60" x2="650.70" y2="412.50" stroke="#bcc0c5" stroke-width="3.77" /><path d="M640.2 239.2q2-2.6 4.8-2.6l0.4 2.2z" fill="#cfd2d6"/><path d="M648.7 239.5l4.5 2M650.4000000000001 238.3l-2 4.4M645.9000000000001 242v3" stroke="#bcc0c5" stroke-width="2.32"/><text stroke="#e6e8ea" stroke-width="1.30" x="620.99" y="232.60" font-size="8.54" fill="#dfe1e4" textLength="16.01" lengthAdjust="spacingAndGlyphs" >-F04</text><text stroke="#e6e8ea" stroke-width="1.30" x="653.80" y="242.60" font-size="6.59" fill="#dcdfe2" textLength="6.69" lengthAdjust="spacingAndGlyphs" >20</text><polyline points="650.70,279.30 654.90,283.50 742.90,283.50 742.90,304.00" fill="none" stroke="#bcc0c5" stroke-width="3.48" /><polyline points="742.90,319.00 742.90,339.00 654.90,339.00 650.70,343.20" fill="none" stroke="#bcc0c5" stroke-width="3.48" /><polyline points="691.90,283.50 696.30,287.90 696.30,304.00" fill="none" stroke="#bcc0c5" stroke-width="3.48" /><polyline points="696.30,319.00 696.30,334.60 691.90,339.00" fill="none" stroke="#bcc0c5" stroke-width="3.48" /><rect x="686.90" y="301.7" width="19.6" height="18.6" fill="none" stroke="#c9ccd0" stroke-width="2.90" stroke-dasharray="2.2 1.6"/><line x1="690.50" y1="304.80" x2="696.50" y2="319.20" stroke="#bcc0c5" stroke-width="3.19" /><text stroke="#e6e8ea" stroke-width="1.30" x="699.21" y="313.60" font-size="6.83" fill="#dcdfe2" textLength="4.47" lengthAdjust="spacingAndGlyphs" >C</text><text stroke="#e6e8ea" stroke-width="1.30" x="663.76" y="312.10" font-size="8.3" fill="#e0e2e5" textLength="22.44" lengthAdjust="spacingAndGlyphs" >-1.1.101</text><text stroke="#e6e8ea" stroke-width="1.30" x="671.80" y="321.10" font-size="7.56" fill="#e0e2e5" textLength="13.67" lengthAdjust="spacingAndGlyphs" >/07.2</text><rect x="732.90" y="301.7" width="19.6" height="18.6" fill="none" stroke="#c9ccd0" stroke-width="2.90" stroke-dasharray="2.2 1.6"/><line x1="736.50" y1="304.80" x2="742.50" y2="319.20" stroke="#bcc0c5" stroke-width="3.19" /><text stroke="#e6e8ea" stroke-width="1.30" x="745.15" y="313.60" font-size="6.83" fill="#dcdfe2" textLength="4.47" lengthAdjust="spacingAndGlyphs" >D</text><text stroke="#e6e8ea" stroke-width="1.30" x="710.16" y="312.10" font-size="8.3" fill="#e0e2e5" textLength="22.44" lengthAdjust="spacingAndGlyphs" >-1.1.101</text><text stroke="#e6e8ea" stroke-width="1.30" x="718.20" y="321.10" font-size="7.56" fill="#e0e2e5" textLength="13.67" lengthAdjust="spacingAndGlyphs" >/07.2</text><text stroke="#e6e8ea" stroke-width="1.30" x="633.79" y="408.60" font-size="8.3" fill="#e0e2e5" textLength="16.34" lengthAdjust="spacingAndGlyphs" >-X01</text><rect x="645.50" y="412.6" width="9.47" height="27.9" fill="none" stroke="#c9ccd0" stroke-width="3.19"/><rect x="654.97" y="412.6" width="9.47" height="27.9" fill="none" stroke="#c9ccd0" stroke-width="3.19"/><rect x="664.44" y="412.6" width="9.47" height="27.9" fill="none" stroke="#c9ccd0" stroke-width="3.19"/><text stroke="#e6e8ea" stroke-width="1.30" transform="translate(652.44 437.00) rotate(-90)" x="-0.32" y="0" font-size="6.59" fill="#dcdfe2" textLength="4.40" lengthAdjust="spacingAndGlyphs">5</text><text stroke="#e6e8ea" stroke-width="1.30" transform="translate(661.94 437.00) rotate(-90)" x="-0.53" y="0" font-size="6.59" fill="#dcdfe2" textLength="4.81" lengthAdjust="spacingAndGlyphs">N</text><text stroke="#e6e8ea" stroke-width="1.30" transform="translate(671.41 437.00) rotate(-90)" x="-0.47" y="0" font-size="6.59" fill="#dcdfe2" textLength="7.87" lengthAdjust="spacingAndGlyphs">PE</text><text stroke="#e6e8ea" stroke-width="1.30" x="652.40" y="467.40" font-size="5.86" fill="#e2e4e6" textLength="14.43" lengthAdjust="spacingAndGlyphs" >THWN</text><text stroke="#e6e8ea" stroke-width="1.30" x="647.96" y="485.30" font-size="5.86" fill="#e2e4e6" textLength="23.15" lengthAdjust="spacingAndGlyphs" >%CIRCNO</text><text transform="translate(653.27 520.00) rotate(-90)" x="-0.14" y="0" font-size="5.86" fill="#cfd2d6" textLength="16.14" lengthAdjust="spacingAndGlyphs">%PLC3</text><text transform="translate(698.62 520.00) rotate(-90)" x="-0.14" y="0" font-size="5.86" fill="#cfd2d6" textLength="16.09" lengthAdjust="spacingAndGlyphs">%PLC4</text><circle cx="807.8" cy="200.6" r="2.4" fill="#eef0f2"/><line x1="807.80" y1="200.60" x2="807.80" y2="231.00" stroke="#bcc0c5" stroke-width="3.77" /><line x1="807.80" y1="242.60" x2="802.40" y2="230.80" stroke="#bcc0c5" stroke-width="3.48" /><line x1="807.80" y1="242.60" x2="807.80" y2="412.50" stroke="#bcc0c5" stroke-width="3.77" /><path d="M797.3 239.2q2-2.6 4.8-2.6l0.4 2.2z" fill="#cfd2d6"/><path d="M805.8 239.5l4.5 2M807.5 238.3l-2 4.4M803.0 242v3" stroke="#bcc0c5" stroke-width="2.32"/><text stroke="#e6e8ea" stroke-width="1.30" x="778.09" y="232.60" font-size="8.54" fill="#dfe1e4" textLength="16.09" lengthAdjust="spacingAndGlyphs" >-F05</text><text stroke="#e6e8ea" stroke-width="1.30" x="810.90" y="242.60" font-size="6.59" fill="#dcdfe2" textLength="6.69" lengthAdjust="spacingAndGlyphs" >20</text><polyline points="807.80,279.30 812.00,283.50 900.00,283.50 900.00,304.00" fill="none" stroke="#bcc0c5" stroke-width="3.48" /><polyline points="900.00,319.00 900.00,339.00 812.00,339.00 807.80,343.20" fill="none" stroke="#bcc0c5" stroke-width="3.48" /><polyline points="849.00,283.50 853.40,287.90 853.40,304.00" fill="none" stroke="#bcc0c5" stroke-width="3.48" /><polyline points="853.40,319.00 853.40,334.60 849.00,339.00" fill="none" stroke="#bcc0c5" stroke-width="3.48" /><rect x="844.00" y="301.7" width="19.6" height="18.6" fill="none" stroke="#c9ccd0" stroke-width="2.90" stroke-dasharray="2.2 1.6"/><line x1="847.60" y1="304.80" x2="853.60" y2="319.20" stroke="#bcc0c5" stroke-width="3.19" /><text stroke="#e6e8ea" stroke-width="1.30" x="856.40" y="313.60" font-size="6.83" fill="#dcdfe2" textLength="4.12" lengthAdjust="spacingAndGlyphs" >E</text><text stroke="#e6e8ea" stroke-width="1.30" x="820.86" y="312.10" font-size="8.3" fill="#e0e2e5" textLength="22.44" lengthAdjust="spacingAndGlyphs" >-1.1.101</text><text stroke="#e6e8ea" stroke-width="1.30" x="828.90" y="321.10" font-size="7.56" fill="#e0e2e5" textLength="13.67" lengthAdjust="spacingAndGlyphs" >/07.2</text><rect x="890.00" y="301.7" width="19.6" height="18.6" fill="none" stroke="#c9ccd0" stroke-width="2.90" stroke-dasharray="2.2 1.6"/><line x1="893.60" y1="304.80" x2="899.60" y2="319.20" stroke="#bcc0c5" stroke-width="3.19" /><text stroke="#e6e8ea" stroke-width="1.30" x="902.56" y="313.60" font-size="6.83" fill="#dcdfe2" textLength="3.78" lengthAdjust="spacingAndGlyphs" >F</text><text stroke="#e6e8ea" stroke-width="1.30" x="867.26" y="312.10" font-size="8.3" fill="#e0e2e5" textLength="22.44" lengthAdjust="spacingAndGlyphs" >-1.1.101</text><text stroke="#e6e8ea" stroke-width="1.30" x="875.30" y="321.10" font-size="7.56" fill="#e0e2e5" textLength="13.67" lengthAdjust="spacingAndGlyphs" >/07.2</text><text stroke="#e6e8ea" stroke-width="1.30" x="790.89" y="408.60" font-size="8.3" fill="#e0e2e5" textLength="16.34" lengthAdjust="spacingAndGlyphs" >-X01</text><rect x="802.60" y="412.6" width="9.47" height="27.9" fill="none" stroke="#c9ccd0" stroke-width="3.19"/><rect x="812.07" y="412.6" width="9.47" height="27.9" fill="none" stroke="#c9ccd0" stroke-width="3.19"/><rect x="821.54" y="412.6" width="9.47" height="27.9" fill="none" stroke="#c9ccd0" stroke-width="3.19"/><text stroke="#e6e8ea" stroke-width="1.30" transform="translate(809.57 437.00) rotate(-90)" x="-0.40" y="0" font-size="6.59" fill="#dcdfe2" textLength="4.50" lengthAdjust="spacingAndGlyphs">6</text><text stroke="#e6e8ea" stroke-width="1.30" transform="translate(819.04 437.00) rotate(-90)" x="-0.53" y="0" font-size="6.59" fill="#dcdfe2" textLength="4.81" lengthAdjust="spacingAndGlyphs">N</text><text stroke="#e6e8ea" stroke-width="1.30" transform="translate(828.51 437.00) rotate(-90)" x="-0.47" y="0" font-size="6.59" fill="#dcdfe2" textLength="7.87" lengthAdjust="spacingAndGlyphs">PE</text><text stroke="#e6e8ea" stroke-width="1.30" x="809.50" y="467.40" font-size="5.86" fill="#e2e4e6" textLength="14.43" lengthAdjust="spacingAndGlyphs" >THWN</text><text stroke="#e6e8ea" stroke-width="1.30" x="805.06" y="485.30" font-size="5.86" fill="#e2e4e6" textLength="23.15" lengthAdjust="spacingAndGlyphs" >%CIRCNO</text><text transform="translate(809.52 520.00) rotate(-90)" x="-0.14" y="0" font-size="5.86" fill="#cfd2d6" textLength="16.14" lengthAdjust="spacingAndGlyphs">%PLC5</text><text transform="translate(855.77 520.00) rotate(-90)" x="-0.14" y="0" font-size="5.86" fill="#cfd2d6" textLength="16.14" lengthAdjust="spacingAndGlyphs">%PLC6</text><line x1="328.00" y1="371.40" x2="322.60" y2="361.00" stroke="#bcc0c5" stroke-width="3.48" /><rect x="318.6" y="394.5" width="19.2" height="18.1" fill="none" stroke="#c9ccd0" stroke-width="3.19"/><line x1="328.00" y1="394.50" x2="328.00" y2="412.60" stroke="#bcc0c5" stroke-width="3.48" /><path d="M305.3 371h2.6v-8.8h4.2M312.5 364.5l2.8 5.5l2.8-5.5" fill="none" stroke="#bcc0c5" stroke-width="2.61"/><text stroke="#e6e8ea" stroke-width="1.30" x="318.40" y="374.60" font-size="5.61" fill="#dcdfe2" textLength="2.82" lengthAdjust="spacingAndGlyphs" >3</text><path d="M321 366.3l3.5 3.8M324.5 366.3l-3.5 3.8" stroke="#bcc0c5" stroke-width="2.32"/><text stroke="#e6e8ea" stroke-width="1.30" x="291.34" y="367.80" font-size="8.54" fill="#dfe1e4" textLength="13.53" lengthAdjust="spacingAndGlyphs" >-S01</text><text stroke="#e6e8ea" stroke-width="1.30" x="330.83" y="370.10" font-size="6.59" fill="#dcdfe2" textLength="11.73" lengthAdjust="spacingAndGlyphs" >%F1</text><text stroke="#e6e8ea" stroke-width="1.30" x="300.32" y="409.60" font-size="8.3" fill="#e0e2e5" textLength="14.67" lengthAdjust="spacingAndGlyphs" >-X01</text><rect x="313.60" y="412.6" width="9.48" height="28.1" fill="none" stroke="#c9ccd0" stroke-width="3.19"/><rect x="323.08" y="412.6" width="9.48" height="28.1" fill="none" stroke="#c9ccd0" stroke-width="3.19"/><rect x="332.56" y="412.6" width="9.48" height="28.1" fill="none" stroke="#c9ccd0" stroke-width="3.19"/><rect x="342.04" y="412.6" width="9.48" height="28.1" fill="none" stroke="#c9ccd0" stroke-width="3.19"/><rect x="351.52" y="412.6" width="9.48" height="28.1" fill="none" stroke="#c9ccd0" stroke-width="3.19"/><text stroke="#e6e8ea" stroke-width="1.30" transform="translate(320.57 437.50) rotate(-90)" x="-0.60" y="0" font-size="6.59" fill="#dcdfe2" textLength="4.80" lengthAdjust="spacingAndGlyphs">1</text><text stroke="#e6e8ea" stroke-width="1.30" transform="translate(330.09 437.50) rotate(-90)" x="-0.41" y="0" font-size="6.59" fill="#dcdfe2" textLength="4.59" lengthAdjust="spacingAndGlyphs">2</text><text stroke="#e6e8ea" stroke-width="1.30" transform="translate(339.53 437.50) rotate(-90)" x="-0.23" y="0" font-size="6.59" fill="#dcdfe2" textLength="4.31" lengthAdjust="spacingAndGlyphs">3</text><text stroke="#e6e8ea" stroke-width="1.30" transform="translate(349.01 437.50) rotate(-90)" x="-0.53" y="0" font-size="6.59" fill="#dcdfe2" textLength="4.81" lengthAdjust="spacingAndGlyphs">N</text><text stroke="#e6e8ea" stroke-width="1.30" transform="translate(358.49 437.50) rotate(-90)" x="-0.47" y="0" font-size="6.59" fill="#dcdfe2" textLength="7.87" lengthAdjust="spacingAndGlyphs">PE</text><line x1="265.60" y1="412.80" x2="1017.40" y2="412.80" stroke="#7f2385" stroke-width="6.67" /><line x1="265.60" y1="459.00" x2="1017.40" y2="459.00" stroke="#7f2385" stroke-width="6.67" /><line x1="265.60" y1="477.10" x2="1017.40" y2="477.10" stroke="#7f2385" stroke-width="6.67" /><line x1="265.60" y1="495.70" x2="1017.40" y2="495.70" stroke="#7f2385" stroke-width="6.67" /><line x1="310.00" y1="412.80" x2="310.00" y2="600.00" stroke="#7f2385" stroke-width="6.67" /><line x1="392.40" y1="412.60" x2="392.40" y2="600.00" stroke="#45b3a8" stroke-width="4.06" stroke-dasharray="10.5 3.8"/><line x1="475.40" y1="412.60" x2="475.40" y2="600.00" stroke="#45b3a8" stroke-width="4.06" stroke-dasharray="10.5 3.8"/><line x1="632.30" y1="412.60" x2="632.30" y2="600.00" stroke="#45b3a8" stroke-width="4.06" stroke-dasharray="10.5 3.8"/><line x1="789.20" y1="412.60" x2="789.20" y2="600.00" stroke="#45b3a8" stroke-width="4.06" stroke-dasharray="10.5 3.8"/><text stroke="#e6e8ea" stroke-width="1.30" x="271.80" y="433.60" font-size="7.56" fill="#e0e2e5" textLength="22.73" lengthAdjust="spacingAndGlyphs" >Klemme</text><text stroke="#e6e8ea" stroke-width="1.30" x="271.80" y="469.60" font-size="7.56" fill="#e0e2e5" textLength="24.40" lengthAdjust="spacingAndGlyphs" >Kabeltyp</text><text stroke="#e6e8ea" stroke-width="1.30" x="271.75" y="488.50" font-size="7.56" fill="#e0e2e5" textLength="30.43" lengthAdjust="spacingAndGlyphs" >Stromkreis</text><text stroke="#e6e8ea" stroke-width="1.30" x="324.83" y="468.00" font-size="7.56" fill="#e8eaec" textLength="23.38" lengthAdjust="spacingAndGlyphs" >%CABLE</text><text stroke="#e6e8ea" stroke-width="1.30" x="322.31" y="486.90" font-size="7.56" fill="#e8eaec" textLength="29.96" lengthAdjust="spacingAndGlyphs" >%CIRCNO</text><text stroke="#e6e8ea" stroke-width="1.30" x="410.67" y="467.40" font-size="5.86" fill="#e2e4e6" textLength="18.71" lengthAdjust="spacingAndGlyphs" >%CABLE</text><text stroke="#e6e8ea" stroke-width="1.30" x="408.86" y="485.30" font-size="5.86" fill="#e2e4e6" textLength="22.34" lengthAdjust="spacingAndGlyphs" >%CIRCNO</text><text transform="translate(417.32 535.40) rotate(-90)" x="-0.14" y="0" font-size="5.86" fill="#cfd2d6" textLength="31.14" lengthAdjust="spacingAndGlyphs">%CIRCDESCR</text><text stroke="#e6e8ea" stroke-width="1.30" transform="translate(293.53 574.00) rotate(-90)" x="-0.27" y="0" font-size="7.56" fill="#dcdfe2" textLength="71.48" lengthAdjust="spacingAndGlyphs">Stromkreisbezeichnung</text></g></g></svg></body></html>
